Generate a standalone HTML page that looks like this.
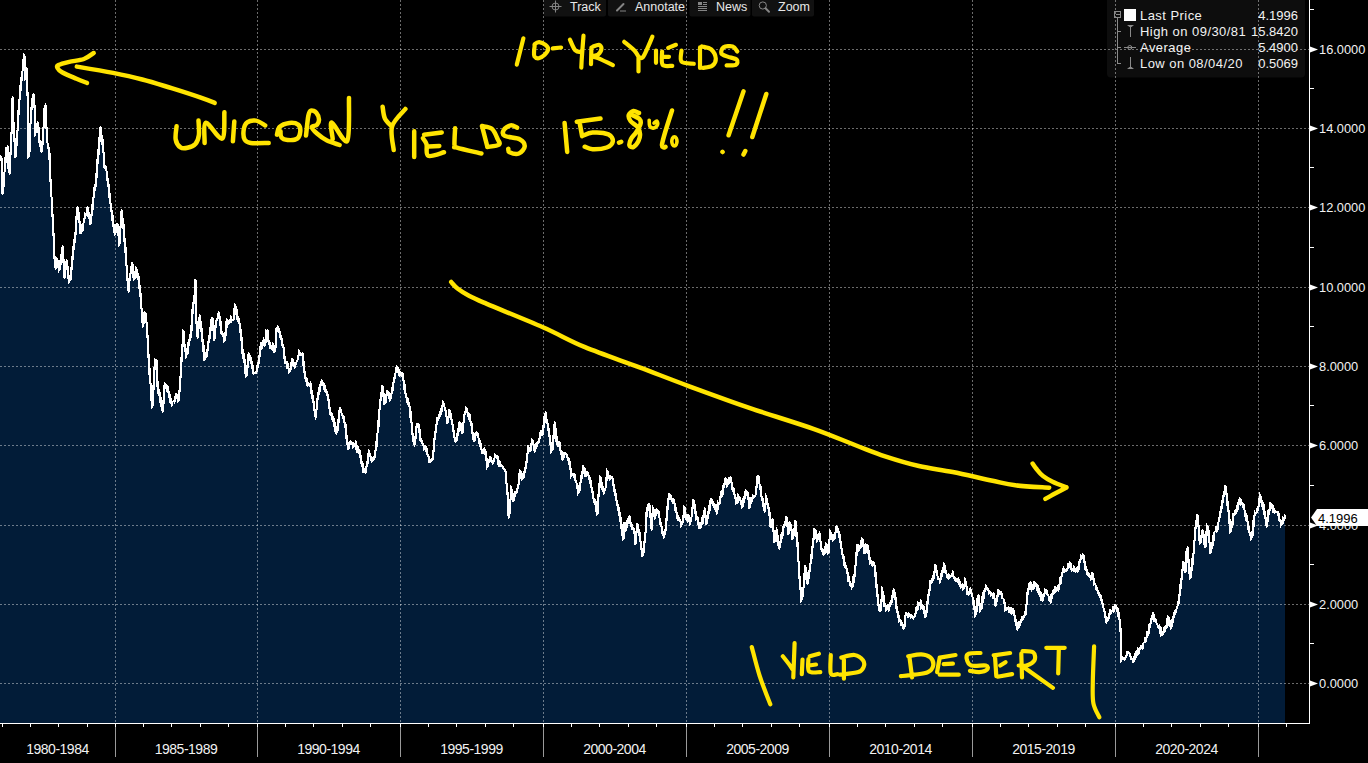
<!DOCTYPE html>
<html><head><meta charset="utf-8">
<style>
html,body{margin:0;padding:0;background:#000;width:1368px;height:763px;overflow:hidden;position:relative;font-family:"Liberation Sans",sans-serif;}
svg{position:absolute;left:0;top:0}
.yl{position:absolute;left:1319px;height:16px;line-height:16px;font-size:13.5px;color:#f2f2f2;white-space:nowrap;transform:scaleX(0.95);transform-origin:0 0}
.yl.tag{color:#000;left:1318px;height:17px;line-height:17px;transform:none;font-size:13px}
.xl{position:absolute;top:740px;width:100px;text-align:center;font-size:14px;line-height:18px;color:#f2f2f2;letter-spacing:-0.5px;white-space:nowrap}
.tb{position:absolute;top:-1px;height:16px;line-height:16px;font-size:12.5px;color:#e8e8e8;white-space:nowrap}
.lg{position:absolute;left:1140px;font-size:13px;letter-spacing:0.45px;line-height:16px;color:#f2f2f2;white-space:nowrap}
.lv{position:absolute;right:70px;font-size:13px;line-height:16px;color:#f2f2f2;text-align:right;white-space:nowrap}
</style></head><body>
<svg width="1368" height="763" viewBox="0 0 1368 763">
<rect x="1107" y="-4" width="198" height="81.5" rx="4" fill="#0d0d0d"/>
<rect x="543.5" y="-4" width="62.5" height="20.5" rx="2" fill="#111111"/>
<rect x="608" y="-4" width="79" height="20.5" rx="2" fill="#111111"/>
<rect x="689.5" y="-4" width="61.0" height="20.5" rx="2" fill="#111111"/>
<rect x="752" y="-4" width="62" height="20.5" rx="2" fill="#111111"/>
<polygon fill="#021c38" shape-rendering="crispEdges" points="0,723 0,159 1.5,191.1 2.5,186.4 3.5,173 4.5,160.4 5.5,151.3 6.5,147.3 7.5,168.4 8.5,171.2 9.5,153.6 10.5,133.5 11.5,99.9 12.5,122.1 13.5,140.5 14.5,156.8 15.5,146.6 16.5,130.2 17.5,113.9 18.5,99.8 19.5,88.3 20.5,80.7 21.5,71.6 22.5,62.7 23.5,55.2 24.5,78 25.5,70.7 26.5,92 27.5,155.2 28.5,148.9 29.5,123.8 30.5,110.7 31.5,99.3 32.5,94.6 33.5,105.8 34.5,133.3 35.5,129.7 36.5,124.3 37.5,129.5 38.5,140.4 39.5,146.1 40.5,149 41.5,142.5 42.5,128.2 43.5,108.1 44.5,107.3 45.5,127.8 46.5,142.2 47.5,147.5 48.5,155.9 49.5,178.9 50.5,196.1 51.5,212.9 52.5,233.3 53.5,255.9 54.5,265.8 55.5,264.9 56.5,260.4 57.5,262.4 58.5,268.7 59.5,263.9 60.5,255.8 61.5,247.9 62.5,261.3 63.5,275.7 64.5,268 65.5,261.6 66.5,267.5 67.5,274.7 68.5,281.5 69.5,276.9 70.5,268.4 71.5,257.3 72.5,249.5 73.5,242.7 74.5,232.4 75.5,220.2 76.5,207.9 77.5,213 78.5,221 79.5,230.2 80.5,233 81.5,228.3 82.5,223.8 83.5,218.7 84.5,216 85.5,213.5 86.5,209.9 87.5,213 88.5,218.4 89.5,223.3 90.5,215.5 91.5,207 92.5,198.3 93.5,190.5 94.5,184.7 95.5,175.6 96.5,163 97.5,152.5 98.5,140.2 99.5,129.8 100.5,135.5 101.5,141.7 102.5,151.3 103.5,166.4 104.5,168.7 105.5,170.7 106.5,177.3 107.5,186.6 108.5,195.3 109.5,202.5 110.5,210.4 111.5,217.6 112.5,224.5 113.5,231.5 114.5,232 115.5,227.7 116.5,225.5 117.5,235.7 118.5,243.3 119.5,228 120.5,213.1 121.5,217.4 122.5,226.9 123.5,237.7 124.5,249.9 125.5,265 126.5,280 127.5,290 128.5,280.3 129.5,273.3 130.5,268 131.5,263.4 132.5,275.1 133.5,279.1 134.5,275.3 135.5,269.2 136.5,272.5 137.5,275.9 138.5,285.3 139.5,295.8 140.5,308.6 141.5,320.4 142.5,323.9 143.5,315.9 144.5,313 145.5,322.5 146.5,335.7 147.5,357.1 148.5,371.1 149.5,383.6 150.5,397.1 151.5,407.1 152.5,387.7 153.5,369.5 154.5,361.4 155.5,362.4 156.5,382.6 157.5,390.4 158.5,394.3 159.5,398.6 160.5,403.2 161.5,409.3 162.5,403.1 163.5,388.7 164.5,383.2 165.5,385 166.5,387.7 167.5,392.1 168.5,396.6 169.5,400.6 170.5,403.6 171.5,402.2 172.5,401.2 173.5,401.5 174.5,398.2 175.5,396.4 176.5,398 177.5,399.8 178.5,390.9 179.5,377.3 180.5,360.5 181.5,345.6 182.5,331.4 183.5,344.2 184.5,351.1 185.5,355.2 186.5,351.5 187.5,345.7 188.5,340.6 189.5,337.6 190.5,328.1 191.5,313 192.5,304.1 193.5,295.5 194.5,280.7 195.5,323 196.5,334.9 197.5,326 198.5,317.5 199.5,322.5 200.5,329.5 201.5,339.2 202.5,348.1 203.5,356.8 204.5,358.8 205.5,354.9 206.5,349.4 207.5,343.2 208.5,335.8 209.5,329.8 210.5,322.9 211.5,320.7 212.5,329.8 213.5,336.7 214.5,328.1 215.5,321.9 216.5,318.6 217.5,314.7 218.5,315.3 219.5,323.1 220.5,331.2 221.5,334.3 222.5,335.8 223.5,340.3 224.5,335.5 225.5,325.1 226.5,321.6 227.5,323.7 228.5,321.7 229.5,319.6 230.5,318.7 231.5,319.1 232.5,319.2 233.5,310.5 234.5,306.8 235.5,310.9 236.5,315.9 237.5,319 238.5,322.9 239.5,329.7 240.5,339.2 241.5,351 242.5,355.8 243.5,361.6 244.5,369.6 245.5,373.9 246.5,367.5 247.5,358.3 248.5,355 249.5,356.5 250.5,360.4 251.5,367.6 252.5,372.6 253.5,373.6 254.5,372 255.5,372.5 256.5,367.5 257.5,362.8 258.5,356.2 259.5,349.7 260.5,346.1 261.5,343.6 262.5,340.5 263.5,342.3 264.5,343.2 265.5,331.6 266.5,331.2 267.5,339.6 268.5,344.4 269.5,347.6 270.5,346.7 271.5,345.5 272.5,347.3 273.5,351.8 274.5,346.7 275.5,331.7 276.5,330 277.5,328.4 278.5,331 279.5,334.7 280.5,338.7 281.5,343.5 282.5,347 283.5,355.4 284.5,362.7 285.5,363.2 286.5,364.6 287.5,368.2 288.5,372.2 289.5,370.7 290.5,363.2 291.5,360.6 292.5,364.6 293.5,366.3 294.5,364.4 295.5,362.6 296.5,360.1 297.5,355.7 298.5,352.7 299.5,353.6 300.5,354.7 301.5,355.8 302.5,362.5 303.5,370.7 304.5,376.2 305.5,380.7 306.5,383.8 307.5,384.3 308.5,383.4 309.5,384 310.5,389.9 311.5,394.8 312.5,401.7 313.5,408.9 314.5,415.7 315.5,409.5 316.5,399.8 317.5,394 318.5,390.1 319.5,384.9 320.5,382 321.5,385.2 322.5,385.5 323.5,386.5 324.5,388.7 325.5,390.9 326.5,393.9 327.5,399.9 328.5,407.7 329.5,413.4 330.5,415.5 331.5,417.6 332.5,419.3 333.5,424.5 334.5,427.9 335.5,432.9 336.5,428.2 337.5,420.1 338.5,412.5 339.5,409.4 340.5,412.2 341.5,414.2 342.5,416.4 343.5,422 344.5,427.1 345.5,435.1 346.5,441.5 347.5,446.9 348.5,444.2 349.5,441.4 350.5,442.3 351.5,444.4 352.5,447.4 353.5,444.1 354.5,444 355.5,446.3 356.5,449.1 357.5,451.6 358.5,452.9 359.5,454.3 360.5,459.9 361.5,465.9 362.5,469.3 363.5,472.6 364.5,472.7 365.5,467.1 366.5,461.7 367.5,455.7 368.5,452.5 369.5,455.6 370.5,458.3 371.5,459.1 372.5,460.2 373.5,458.3 374.5,450.9 375.5,443.8 376.5,433.8 377.5,423.9 378.5,409.8 379.5,400.2 380.5,393.3 381.5,387.7 382.5,395.2 383.5,403.7 384.5,401.3 385.5,395.3 386.5,391.1 387.5,392.8 388.5,396.3 389.5,398.2 390.5,393.2 391.5,388.2 392.5,382.5 393.5,378.9 394.5,373.5 395.5,367.5 396.5,366.2 397.5,369.5 398.5,373 399.5,374.3 400.5,375.5 401.5,376 402.5,380.2 403.5,386.6 404.5,393.3 405.5,397.3 406.5,399.5 407.5,402.4 408.5,406.4 409.5,414.1 410.5,420.9 411.5,433.4 412.5,439.3 413.5,442.8 414.5,437 415.5,427 416.5,424.3 417.5,424.1 418.5,431.6 419.5,438.5 420.5,440.9 421.5,442.8 422.5,445 423.5,447.1 424.5,448.8 425.5,450.8 426.5,454 427.5,455.5 428.5,459.6 429.5,462 430.5,461.7 431.5,460 432.5,452.1 433.5,440.4 434.5,431.8 435.5,425.4 436.5,421.2 437.5,418.3 438.5,414.5 439.5,412.7 440.5,410.8 441.5,406.2 442.5,403.9 443.5,406.6 444.5,409.8 445.5,415.7 446.5,422 447.5,417.7 448.5,409.9 449.5,414.3 450.5,419.2 451.5,423.7 452.5,430.4 453.5,436 454.5,441 455.5,440.8 456.5,433.3 457.5,430 458.5,425.4 459.5,422.9 460.5,427 461.5,432.2 462.5,423 463.5,415.2 464.5,411.9 465.5,408.4 466.5,412.1 467.5,414.2 468.5,416.5 469.5,420.4 470.5,423.8 471.5,431.1 472.5,437.3 473.5,440.1 474.5,436.1 475.5,433.4 476.5,432.6 477.5,437.1 478.5,442 479.5,445.7 480.5,449.1 481.5,452.4 482.5,452.5 483.5,451.1 484.5,451.2 485.5,459.9 486.5,466.4 487.5,463.3 488.5,459.4 489.5,458.4 490.5,460.6 491.5,461.8 492.5,462.1 493.5,458.7 494.5,456.4 495.5,456.4 496.5,458.3 497.5,461.6 498.5,464 499.5,466 500.5,466.4 501.5,466.4 502.5,468.7 503.5,469.8 504.5,470.9 505.5,482.5 506.5,494.7 507.5,515.3 508.5,511 509.5,500.2 510.5,488.4 511.5,493 512.5,498.3 513.5,497.2 514.5,493.7 515.5,491.4 516.5,488.8 517.5,485.4 518.5,476.6 519.5,471.1 520.5,475.2 521.5,477.6 522.5,478.1 523.5,473.3 524.5,468.8 525.5,461.9 526.5,453.9 527.5,446 528.5,450.3 529.5,451.3 530.5,445.7 531.5,439 532.5,443.7 533.5,449.5 534.5,447.7 535.5,444.6 536.5,443.8 537.5,441.9 538.5,439.2 539.5,436.2 540.5,433.9 541.5,431.9 542.5,427.3 543.5,420.1 544.5,413.7 545.5,418.9 546.5,423.4 547.5,429 548.5,435.9 549.5,442.8 550.5,449.9 551.5,447.5 552.5,436.4 553.5,424.2 554.5,430.3 555.5,438.9 556.5,444 557.5,443.9 558.5,445.1 559.5,450 560.5,453.2 561.5,458 562.5,455.4 563.5,454.1 564.5,452.8 565.5,453.8 566.5,456.8 567.5,457.1 568.5,461.1 569.5,467.9 570.5,476.2 571.5,475.4 572.5,474.8 573.5,475.5 574.5,479 575.5,482.7 576.5,487.9 577.5,493 578.5,490.1 579.5,482.7 580.5,476.7 581.5,472.9 582.5,466.4 583.5,469.4 584.5,475.3 585.5,475.9 586.5,472.5 587.5,474.8 588.5,477.8 589.5,483 590.5,486.9 591.5,491.9 592.5,497.3 593.5,499.1 594.5,502.2 595.5,510.5 596.5,513.5 597.5,496 598.5,485.2 599.5,479 600.5,483.4 601.5,486.4 602.5,489.3 603.5,491.2 604.5,488.4 605.5,479.7 606.5,470.6 607.5,474.4 608.5,476.9 609.5,475.8 610.5,477.3 611.5,477.4 612.5,483.9 613.5,489.7 614.5,494.5 615.5,499.5 616.5,504.2 617.5,509.5 618.5,514.9 619.5,519.9 620.5,524.6 621.5,535 622.5,538 623.5,522.9 624.5,523.7 625.5,528.3 626.5,521 627.5,518.3 628.5,518.7 629.5,521.8 630.5,526 631.5,528.5 632.5,528.3 633.5,532.3 634.5,543.3 635.5,532.6 636.5,524.5 637.5,528.3 638.5,534.3 639.5,541 640.5,548.1 641.5,555.4 642.5,551.6 643.5,543.2 644.5,532.9 645.5,515.6 646.5,508.5 647.5,504.2 648.5,506.6 649.5,515.7 650.5,527.1 651.5,515.3 652.5,509.2 653.5,513 654.5,516.4 655.5,513 656.5,510.9 657.5,512.3 658.5,517.3 659.5,521.9 660.5,525.9 661.5,530.3 662.5,534.2 663.5,535.2 664.5,530.4 665.5,519.8 666.5,508 667.5,499.5 668.5,494 669.5,495.8 670.5,497.8 671.5,500 672.5,501.9 673.5,503.3 674.5,507.7 675.5,511.9 676.5,516.6 677.5,519.2 678.5,519.2 679.5,521.3 680.5,524 681.5,523.3 682.5,515.9 683.5,509.3 684.5,513.9 685.5,517.7 686.5,518.8 687.5,518.1 688.5,518.8 689.5,522.3 690.5,517.6 691.5,508.3 692.5,499.7 693.5,506.4 694.5,513.5 695.5,517.1 696.5,518.4 697.5,521 698.5,524.8 699.5,526.3 700.5,523.3 701.5,520.9 702.5,515.5 703.5,510.8 704.5,516.3 705.5,524 706.5,519.1 707.5,512.9 708.5,508.8 709.5,503.8 710.5,500 711.5,502.6 712.5,504.8 713.5,507.1 714.5,508.2 715.5,510.8 716.5,507.4 717.5,504.2 718.5,502.4 719.5,497.6 720.5,494.5 721.5,491.8 722.5,489 723.5,483.8 724.5,479.7 725.5,481 726.5,484.3 727.5,482.3 728.5,477.9 729.5,478.1 730.5,481.7 731.5,486.4 732.5,490.1 733.5,493.7 734.5,497 735.5,501.4 736.5,501.6 737.5,495.8 738.5,497 739.5,500.2 740.5,503.9 741.5,504.9 742.5,500.6 743.5,497.3 744.5,493.4 745.5,490.8 746.5,495 747.5,499.6 748.5,504.8 749.5,504.4 750.5,500.4 751.5,497.9 752.5,498.4 753.5,497.5 754.5,495.6 755.5,487.5 756.5,476.9 757.5,478.9 758.5,483.3 759.5,489 760.5,495.1 761.5,500.1 762.5,503.2 763.5,509.2 764.5,505.4 765.5,497.3 766.5,502.3 767.5,506.2 768.5,512.6 769.5,524.2 770.5,526.5 771.5,519.1 772.5,530.1 773.5,541.3 774.5,540.3 775.5,531.3 776.5,538 777.5,545 778.5,548.6 779.5,543.3 780.5,538.1 781.5,533 782.5,528 783.5,525.4 784.5,522.2 785.5,517.7 786.5,524.7 787.5,533.8 788.5,528.2 789.5,524.4 790.5,529.6 791.5,536.5 792.5,535.8 793.5,529.8 794.5,523.8 795.5,533.4 796.5,543.5 797.5,560.7 798.5,575.3 799.5,588.1 800.5,598.8 801.5,593.9 802.5,588 803.5,577.1 804.5,567.5 805.5,574.9 806.5,581 807.5,578.9 808.5,572.2 809.5,564.1 810.5,556.9 811.5,548.3 812.5,538.8 813.5,528.9 814.5,532.6 815.5,537.8 816.5,539.9 817.5,535.6 818.5,533.1 819.5,540.7 820.5,548.2 821.5,550.3 822.5,553 823.5,553.6 824.5,546.8 825.5,546.2 826.5,550.8 827.5,549.8 828.5,540.4 829.5,531.2 830.5,534.2 831.5,536.9 832.5,539.9 833.5,536.2 834.5,533.2 835.5,530.3 836.5,527.5 837.5,531.2 838.5,535.2 839.5,540.8 840.5,548.4 841.5,554.3 842.5,558.7 843.5,562.1 844.5,564.2 845.5,568.3 846.5,572.6 847.5,577.8 848.5,580.6 849.5,584.3 850.5,586 851.5,586.5 852.5,580.2 853.5,575.4 854.5,566.5 855.5,554.8 856.5,545.8 857.5,545.7 858.5,547.7 859.5,547.9 860.5,542.5 861.5,538.6 862.5,543.2 863.5,552.3 864.5,550.9 865.5,545.2 866.5,546 867.5,551.9 868.5,558.7 869.5,560.8 870.5,562.8 871.5,563.9 872.5,562.3 873.5,565.7 874.5,572.7 875.5,583.9 876.5,595.7 877.5,603.3 878.5,609.4 879.5,610.9 880.5,599.5 881.5,590 882.5,596.7 883.5,604 884.5,606.8 885.5,608.3 886.5,608.7 887.5,608.3 888.5,605.7 889.5,604.2 890.5,600.6 891.5,596.1 892.5,591.4 893.5,593.2 894.5,599.2 895.5,605.4 896.5,610.1 897.5,615.3 898.5,620.5 899.5,621.8 900.5,621 901.5,624.8 902.5,627.9 903.5,625.9 904.5,616.2 905.5,613.3 906.5,614.2 907.5,616 908.5,615.8 909.5,616 910.5,616.7 911.5,616.5 912.5,617.3 913.5,617.8 914.5,614.3 915.5,608.5 916.5,607.1 917.5,605.2 918.5,604.4 919.5,603 920.5,606.5 921.5,605.6 922.5,608.8 923.5,612.6 924.5,617.1 925.5,610.5 926.5,602.5 927.5,595.8 928.5,589.7 929.5,584.2 930.5,581.7 931.5,580.1 932.5,577.7 933.5,571.2 934.5,565.8 935.5,571.9 936.5,575.6 937.5,576.9 938.5,579.1 939.5,580.5 940.5,576.1 941.5,572.6 942.5,568.9 943.5,565 944.5,569.3 945.5,573.2 946.5,577.6 947.5,576.6 948.5,577.4 949.5,575.7 950.5,575.2 951.5,573.9 952.5,576.2 953.5,578.4 954.5,579 955.5,578.8 956.5,578.6 957.5,578.9 958.5,581.7 959.5,583.8 960.5,585.8 961.5,586.4 962.5,589.2 963.5,585 964.5,580.9 965.5,585.9 966.5,592.5 967.5,594.2 968.5,591.3 969.5,589.5 970.5,592.9 971.5,596.6 972.5,602.8 973.5,609 974.5,615.5 975.5,609.9 976.5,601.1 977.5,597.4 978.5,602.9 979.5,608.8 980.5,606 981.5,600.2 982.5,596 983.5,592.2 984.5,589.7 985.5,586.9 986.5,587.5 987.5,589.5 988.5,593.5 989.5,593 990.5,595.9 991.5,594.8 992.5,593.8 993.5,598.4 994.5,603 995.5,602.2 996.5,596.6 997.5,592.1 998.5,592 999.5,592.4 1000.5,594.1 1001.5,597 1002.5,598.7 1003.5,602.4 1004.5,607.9 1005.5,610.2 1006.5,607.8 1007.5,607.6 1008.5,609.5 1009.5,611.8 1010.5,610.7 1011.5,609.4 1012.5,610.6 1013.5,614.7 1014.5,619.8 1015.5,624.1 1016.5,627.4 1017.5,625.5 1018.5,623.1 1019.5,622.6 1020.5,620.4 1021.5,619.7 1022.5,618.2 1023.5,615.9 1024.5,612.2 1025.5,604.8 1026.5,595.5 1027.5,588.8 1028.5,583.1 1029.5,584.6 1030.5,588.4 1031.5,588.3 1032.5,586.7 1033.5,584.8 1034.5,582.8 1035.5,583.4 1036.5,587.5 1037.5,591 1038.5,591.8 1039.5,594.8 1040.5,596.9 1041.5,599.1 1042.5,597 1043.5,594 1044.5,589.9 1045.5,590.8 1046.5,593.9 1047.5,595.2 1048.5,598.7 1049.5,600.1 1050.5,598 1051.5,594 1052.5,591.4 1053.5,590.3 1054.5,588.8 1055.5,587.5 1056.5,588.9 1057.5,589.3 1058.5,584.9 1059.5,581.2 1060.5,576.7 1061.5,573.4 1062.5,569 1063.5,571.2 1064.5,571.8 1065.5,570.1 1066.5,568.5 1067.5,565 1068.5,564.3 1069.5,562.2 1070.5,567 1071.5,570.1 1072.5,570.4 1073.5,569.2 1074.5,569.7 1075.5,569.2 1076.5,570.5 1077.5,567.9 1078.5,563.9 1079.5,559.4 1080.5,558.1 1081.5,555.9 1082.5,557.6 1083.5,560 1084.5,565.6 1085.5,570 1086.5,573.9 1087.5,574.6 1088.5,576.5 1089.5,577.2 1090.5,575.7 1091.5,576 1092.5,579.2 1093.5,582.2 1094.5,584.4 1095.5,586.3 1096.5,589.6 1097.5,591.9 1098.5,594.9 1099.5,596.6 1100.5,599.3 1101.5,602.8 1102.5,607.2 1103.5,610.6 1104.5,616.5 1105.5,622.3 1106.5,621.7 1107.5,617.5 1108.5,613.6 1109.5,612.6 1110.5,611.6 1111.5,611.2 1112.5,609.4 1113.5,609.5 1114.5,607.8 1115.5,607.9 1116.5,610.6 1117.5,614.2 1118.5,618.7 1119.5,631 1120.5,661 1121.5,659 1122.5,657.5 1123.5,659 1124.5,658.1 1125.5,656.2 1126.5,652.9 1127.5,651.5 1128.5,653.6 1129.5,656.5 1130.5,658.6 1131.5,659.5 1132.5,661.6 1133.5,658.6 1134.5,657.1 1135.5,653.8 1136.5,652.1 1137.5,650.8 1138.5,649.6 1139.5,647.4 1140.5,645.9 1141.5,646.5 1142.5,643.7 1143.5,642.3 1144.5,640.4 1145.5,637.3 1146.5,635.2 1147.5,631.4 1148.5,627.6 1149.5,623.5 1150.5,618.3 1151.5,616.5 1152.5,616.3 1153.5,618.3 1154.5,619.6 1155.5,621.8 1156.5,624.2 1157.5,625.7 1158.5,627.6 1159.5,630.1 1160.5,633.1 1161.5,634.5 1162.5,632.3 1163.5,628.9 1164.5,627 1165.5,625.4 1166.5,622.3 1167.5,618.9 1168.5,622.3 1169.5,626.1 1170.5,626.3 1171.5,622.9 1172.5,618.6 1173.5,614.3 1174.5,613.1 1175.5,609.4 1176.5,606.5 1177.5,602.2 1178.5,594.9 1179.5,587.8 1180.5,580.3 1181.5,570.9 1182.5,563.7 1183.5,566.7 1184.5,569 1185.5,554.6 1186.5,550.1 1187.5,561.3 1188.5,572.3 1189.5,577.8 1190.5,571.2 1191.5,562.2 1192.5,554.2 1193.5,541.1 1194.5,528 1195.5,521.1 1196.5,515 1197.5,524.9 1198.5,536.9 1199.5,543.6 1200.5,537 1201.5,531.2 1202.5,536.3 1203.5,541.9 1204.5,544.7 1205.5,534.9 1206.5,525.5 1207.5,532.3 1208.5,541.4 1209.5,551.7 1210.5,548 1211.5,543.4 1212.5,539.1 1213.5,532.5 1214.5,531.4 1215.5,529.6 1216.5,526.9 1217.5,522.7 1218.5,518.8 1219.5,513.3 1220.5,507.9 1221.5,502.5 1222.5,496.6 1223.5,492.6 1224.5,486.1 1225.5,494.3 1226.5,502.2 1227.5,511.3 1228.5,521.7 1229.5,532.4 1230.5,527.8 1231.5,522.2 1232.5,514.4 1233.5,514.9 1234.5,513.9 1235.5,511.9 1236.5,507.7 1237.5,502.4 1238.5,500.8 1239.5,498.6 1240.5,501.6 1241.5,503.8 1242.5,505.4 1243.5,509.7 1244.5,513.2 1245.5,517 1246.5,521.9 1247.5,527.7 1248.5,531.6 1249.5,534 1250.5,538.4 1251.5,532.8 1252.5,523.9 1253.5,516.3 1254.5,514.3 1255.5,512.3 1256.5,510.3 1257.5,506.2 1258.5,500.4 1259.5,495.6 1260.5,499 1261.5,502.6 1262.5,506.5 1263.5,511.3 1264.5,518.2 1265.5,524 1266.5,520.4 1267.5,514.3 1268.5,509.7 1269.5,502.7 1270.5,505.9 1271.5,507.3 1272.5,510 1273.5,511.5 1274.5,511.5 1275.5,512.2 1276.5,512.5 1277.5,515.2 1278.5,519 1279.5,521.1 1280.5,525.3 1281.5,522.7 1282.5,519.9 1283.5,519.6 1285,518 1285,723"/>
<g stroke="rgba(255,255,255,0.42)" stroke-width="1" stroke-dasharray="2 2" shape-rendering="crispEdges"><line x1="0" y1="49.5" x2="1309" y2="49.5"/><line x1="0" y1="128.5" x2="1309" y2="128.5"/><line x1="0" y1="207.5" x2="1309" y2="207.5"/><line x1="0" y1="287.5" x2="1309" y2="287.5"/><line x1="0" y1="366.5" x2="1309" y2="366.5"/><line x1="0" y1="445.5" x2="1309" y2="445.5"/><line x1="0" y1="525.5" x2="1309" y2="525.5"/><line x1="0" y1="604.5" x2="1309" y2="604.5"/><line x1="0" y1="683.5" x2="1309" y2="683.5"/><line x1="115.5" y1="0" x2="115.5" y2="723"/><line x1="257.5" y1="0" x2="257.5" y2="723"/><line x1="400.5" y1="0" x2="400.5" y2="723"/><line x1="543.5" y1="0" x2="543.5" y2="723"/><line x1="686.5" y1="0" x2="686.5" y2="723"/><line x1="829.5" y1="0" x2="829.5" y2="723"/><line x1="972.5" y1="0" x2="972.5" y2="723"/><line x1="1115.5" y1="0" x2="1115.5" y2="723"/><line x1="1258.5" y1="0" x2="1258.5" y2="723"/></g>
<path fill="none" stroke="#ffffff" stroke-width="1" shape-rendering="crispEdges" d="M0.5 155.1V160.8M1.5 157.0V193.5M2.5 183.9V194.9M3.5 172.3V187.7M4.5 157.4V173.5M5.5 147.4V164.3M6.5 146.5V151.9M7.5 145.2V169.0M8.5 167.8V173.0M9.5 151.9V175.1M10.5 131.5V156.4M11.5 98.1V134.7M12.5 96.0V125.2M13.5 120.8V141.6M14.5 137.0V158.4M15.5 142.7V158.3M16.5 129.7V147.6M17.5 110.0V132.1M18.5 99.1V116.5M19.5 84.6V101.0M20.5 76.8V91.7M21.5 70.8V81.8M22.5 58.9V72.5M23.5 53.0V64.5M24.5 54.4V80.7M25.5 69.9V79.6M26.5 66.8V95.9M27.5 90.7V159.1M28.5 145.0V157.8M29.5 123.1V152.8M30.5 107.1V125.1M31.5 98.1V111.4M32.5 93.5V101.7M33.5 93.1V107.6M34.5 103.6V137.2M35.5 128.8V134.2M36.5 123.2V130.6M37.5 121.0V133.4M38.5 125.6V142.8M39.5 138.7V146.8M40.5 145.0V152.0M41.5 141.4V152.9M42.5 127.3V145.7M43.5 107.5V129.3M44.5 104.8V109.3M45.5 103.4V128.8M46.5 126.1V142.8M47.5 141.3V149.0M48.5 146.0V159.8M49.5 152.0V181.6M50.5 178.1V196.7M51.5 195.6V216.8M52.5 212.3V235.9M53.5 231.4V259.2M54.5 255.2V267.9M55.5 261.6V269.7M56.5 256.6V268.8M57.5 259.0V265.4M58.5 260.8V272.5M59.5 260.0V271.0M60.5 253.5V266.4M61.5 247.3V258.5M62.5 244.7V262.8M63.5 258.0V278.0M64.5 267.4V279.1M65.5 261.0V270.5M66.5 258.6V269.5M67.5 265.0V278.6M68.5 273.4V284.3M69.5 275.9V282.3M70.5 266.7V280.8M71.5 256.0V271.2M72.5 245.6V261.2M73.5 238.8V251.0M74.5 231.6V244.6M75.5 216.3V236.3M76.5 206.8V221.1M77.5 206.2V214.2M78.5 210.4V222.9M79.5 219.7V234.1M80.5 229.5V233.5M81.5 224.4V233.5M82.5 222.5V232.1M83.5 218.2V224.6M84.5 212.1V219.8M85.5 212.7V216.6M86.5 207.3V216.2M87.5 206.0V216.9M88.5 211.1V219.3M89.5 217.9V225.2M90.5 214.4V224.7M91.5 204.0V217.6M92.5 196.8V210.8M93.5 186.6V199.0M94.5 183.9V192.3M95.5 173.0V188.6M96.5 159.1V179.4M97.5 148.6V164.8M98.5 137.0V156.4M99.5 127.2V143.4M100.5 125.9V139.4M101.5 133.4V145.4M102.5 137.8V152.7M103.5 150.6V168.1M104.5 164.5V169.3M105.5 164.8V171.3M106.5 169.3V181.0M107.5 176.5V187.4M108.5 182.7V198.2M109.5 191.4V204.4M110.5 201.5V212.4M111.5 209.2V220.9M112.5 213.7V226.7M113.5 223.2V233.0M114.5 230.5V235.9M115.5 223.8V234.1M116.5 223.4V229.6M117.5 223.0V236.2M118.5 234.1V247.2M119.5 225.8V245.3M120.5 210.9V229.6M121.5 209.2V221.3M122.5 216.6V228.6M123.5 223.0V241.6M124.5 236.7V252.5M125.5 246.0V265.8M126.5 264.1V281.1M127.5 277.1V291.3M128.5 279.6V293.3M129.5 272.5V282.3M130.5 265.9V275.0M131.5 261.9V269.6M132.5 262.4V277.7M133.5 272.5V281.2M134.5 271.4V280.1M135.5 265.9V279.2M136.5 267.9V276.4M137.5 271.5V279.8M138.5 274.8V288.5M139.5 284.2V296.5M140.5 292.0V309.4M141.5 307.0V323.3M142.5 317.5V327.8M143.5 312.0V324.7M144.5 311.0V318.8M145.5 312.0V323.2M146.5 320.3V337.7M147.5 333.4V357.9M148.5 353.2V375.0M149.5 367.2V384.3M150.5 381.8V400.6M151.5 395.8V408.9M152.5 385.2V407.6M153.5 366.5V391.6M154.5 358.1V371.1M155.5 360.4V363.3M156.5 358.5V386.5M157.5 379.6V394.3M158.5 388.0V396.3M159.5 390.4V402.5M160.5 395.3V406.9M161.5 399.3V410.9M162.5 400.1V412.9M163.5 385.2V404.7M164.5 381.8V390.5M165.5 382.7V386.4M166.5 383.9V391.6M167.5 384.9V393.4M168.5 390.0V398.1M169.5 392.7V403.3M170.5 396.7V404.2M171.5 399.7V406.9M172.5 400.6V403.2M173.5 399.7V402.2M174.5 396.0V403.5M175.5 392.5V400.5M176.5 392.5V398.7M177.5 395.6V403.3M178.5 390.0V401.7M179.5 376.4V392.8M180.5 356.6V378.9M181.5 343.5V362.9M182.5 328.7V347.8M183.5 330.2V347.4M184.5 343.1V351.7M185.5 350.3V358.7M186.5 348.1V355.8M187.5 341.8V355.4M188.5 338.9V347.5M189.5 333.7V341.7M190.5 324.9V339.4M191.5 309.1V332.0M192.5 301.5V314.8M193.5 294.5V304.7M194.5 279.0V298.3M195.5 278.9V324.1M196.5 319.3V337.0M197.5 322.1V338.8M198.5 316.7V329.9M199.5 313.8V325.0M200.5 319.5V331.7M201.5 327.1V341.8M202.5 338.1V352.0M203.5 344.2V360.7M204.5 355.6V360.5M205.5 352.4V359.6M206.5 348.7V357.8M207.5 341.0V351.9M208.5 334.8V344.5M209.5 326.5V339.7M210.5 319.0V332.4M211.5 317.2V323.9M212.5 316.8V331.3M213.5 327.1V340.6M214.5 324.7V340.6M215.5 320.2V329.6M216.5 318.0V322.6M217.5 312.5V320.5M218.5 311.1V315.9M219.5 314.3V325.9M220.5 319.9V334.2M221.5 330.0V335.1M222.5 332.8V336.6M223.5 332.8V342.6M224.5 331.6V342.1M225.5 321.2V336.8M226.5 317.7V329.0M227.5 320.5V325.2M228.5 320.2V325.3M229.5 318.6V324.0M230.5 314.8V321.8M231.5 317.7V322.6M232.5 318.6V321.2M233.5 308.4V321.4M234.5 302.9V311.2M235.5 304.6V314.6M236.5 307.6V319.8M237.5 315.2V321.6M238.5 316.3V324.0M239.5 321.9V333.2M240.5 328.1V340.6M241.5 335.3V353.9M242.5 347.9V358.9M243.5 351.9V363.2M244.5 357.7V373.5M245.5 365.7V377.8M246.5 365.4V377.0M247.5 354.4V369.1M248.5 351.7V362.2M249.5 353.5V357.4M250.5 355.3V364.3M251.5 359.8V368.8M252.5 363.9V373.5M253.5 372.0V375.4M254.5 371.5V374.3M255.5 371.1V373.5M256.5 365.1V373.5M257.5 361.9V368.7M258.5 354.9V365.0M259.5 345.8V358.0M260.5 342.2V350.9M261.5 341.7V350.0M262.5 339.9V347.5M263.5 337.3V343.6M264.5 341.3V347.1M265.5 329.3V344.2M266.5 329.9V334.8M267.5 328.5V341.7M268.5 338.4V345.4M269.5 340.5V349.3M270.5 345.6V349.4M271.5 344.7V349.7M272.5 341.8V350.7M273.5 346.7V352.8M274.5 345.1V353.4M275.5 327.8V348.7M276.5 326.8V333.1M277.5 324.5V330.6M278.5 326.5V332.8M279.5 330.2V338.3M280.5 334.1V339.9M281.5 337.2V346.1M282.5 342.8V348.4M283.5 345.5V359.3M284.5 354.8V364.0M285.5 360.1V364.1M286.5 362.7V368.5M287.5 361.4V369.1M288.5 366.9V374.1M289.5 369.6V373.4M290.5 362.2V371.6M291.5 357.8V364.4M292.5 357.9V365.7M293.5 361.1V366.9M294.5 362.0V368.8M295.5 361.8V365.8M296.5 359.5V363.6M297.5 355.0V360.8M298.5 348.8V357.2M299.5 351.0V355.9M300.5 352.3V355.9M301.5 353.3V356.3M302.5 351.9V365.7M303.5 360.2V372.8M304.5 369.5V378.5M305.5 375.5V382.0M306.5 377.2V385.9M307.5 383.0V387.3M308.5 382.2V386.0M309.5 382.6V386.6M310.5 381.3V393.5M311.5 389.1V398.7M312.5 394.2V402.7M313.5 399.8V411.4M314.5 407.7V417.3M315.5 408.8V419.6M316.5 398.0V411.4M317.5 392.1V400.9M318.5 386.7V396.1M319.5 384.2V393.6M320.5 381.1V386.8M321.5 378.5V386.0M322.5 384.6V386.3M323.5 381.6V390.4M324.5 384.1V391.5M325.5 387.4V392.9M326.5 390.0V395.5M327.5 393.2V401.2M328.5 398.1V408.7M329.5 405.7V414.6M330.5 411.0V416.3M331.5 411.6V419.7M332.5 415.4V421.8M333.5 416.4V427.4M334.5 420.9V431.7M335.5 426.5V434.3M336.5 426.4V434.6M337.5 418.6V432.1M338.5 409.8V424.0M339.5 406.7V414.5M340.5 407.4V412.8M341.5 411.5V415.7M342.5 413.6V418.9M343.5 414.7V423.0M344.5 421.1V427.7M345.5 423.2V439.0M346.5 433.7V444.7M347.5 440.5V449.8M348.5 443.5V450.1M349.5 440.7V446.0M350.5 440.4V443.4M351.5 441.1V445.0M352.5 443.0V448.7M353.5 442.1V448.0M354.5 442.8V445.7M355.5 440.1V450.2M356.5 445.2V453.0M357.5 445.2V452.5M358.5 450.0V453.8M359.5 449.0V458.2M360.5 453.4V463.8M361.5 459.3V466.5M362.5 462.0V473.2M363.5 466.7V473.3M364.5 471.1V473.3M365.5 466.1V473.8M366.5 460.9V468.0M367.5 453.4V464.9M368.5 448.6V457.7M369.5 451.5V456.7M370.5 454.6V460.5M371.5 457.6V463.0M372.5 457.3V460.8M373.5 456.2V461.3M374.5 450.2V459.4M375.5 440.9V451.9M376.5 432.9V447.7M377.5 420.0V434.3M378.5 408.5V427.8M379.5 398.6V410.7M380.5 392.1V402.6M381.5 384.6V395.1M382.5 385.2V396.9M383.5 391.3V404.5M384.5 399.2V404.7M385.5 393.8V404.4M386.5 390.1V396.9M387.5 390.2V394.8M388.5 390.7V399.0M389.5 394.4V402.1M390.5 392.7V399.8M391.5 386.8V394.7M392.5 381.9V392.1M393.5 377.0V384.4M394.5 372.7V380.1M395.5 367.0V374.6M396.5 365.2V369.5M397.5 365.5V372.9M398.5 368.7V375.5M399.5 369.4V377.4M400.5 373.0V376.4M401.5 371.6V376.6M402.5 372.1V380.9M403.5 378.6V389.5M404.5 382.7V394.1M405.5 392.0V398.4M406.5 396.7V403.4M407.5 396.5V405.2M408.5 400.5V407.4M409.5 404.9V418.0M410.5 410.2V423.0M411.5 420.3V434.8M412.5 432.2V441.8M413.5 435.4V444.9M414.5 435.7V446.5M415.5 425.7V440.1M416.5 423.4V428.9M417.5 423.3V425.1M418.5 422.9V433.2M419.5 427.7V440.9M420.5 437.1V441.6M421.5 438.4V444.0M422.5 441.9V446.0M423.5 443.6V451.0M424.5 445.8V449.6M425.5 444.9V452.1M426.5 446.9V454.6M427.5 452.9V456.8M428.5 454.4V462.6M429.5 457.9V462.6M430.5 461.1V462.8M431.5 457.9V462.3M432.5 450.3V460.7M433.5 437.9V453.1M434.5 431.0V441.3M435.5 424.4V434.4M436.5 417.3V426.4M437.5 417.2V422.4M438.5 413.9V420.5M439.5 410.7V417.8M440.5 408.4V416.6M441.5 405.3V413.2M442.5 400.0V407.2M443.5 401.7V407.2M444.5 405.9V411.1M445.5 408.6V417.4M446.5 414.3V423.6M447.5 416.9V424.4M448.5 408.7V419.2M449.5 409.2V416.3M450.5 411.8V419.7M451.5 417.8V424.9M452.5 423.1V432.1M453.5 428.4V437.6M454.5 435.5V442.2M455.5 436.9V442.9M456.5 432.5V442.3M457.5 427.8V437.2M458.5 421.5V433.0M459.5 420.7V427.5M460.5 421.9V430.5M461.5 423.1V433.5M462.5 422.3V433.9M463.5 414.1V424.3M464.5 411.0V416.2M465.5 406.0V412.8M466.5 407.1V413.0M467.5 410.4V416.5M468.5 412.3V420.0M469.5 412.6V421.6M470.5 419.3V426.4M471.5 421.3V433.6M472.5 430.3V439.5M473.5 435.7V442.0M474.5 433.2V441.9M475.5 432.4V437.1M476.5 430.9V434.1M477.5 432.0V437.8M478.5 436.4V443.5M479.5 439.0V447.3M480.5 441.8V449.7M481.5 448.1V454.1M482.5 449.7V453.5M483.5 448.4V453.7M484.5 447.4V454.7M485.5 449.3V461.3M486.5 456.4V469.6M487.5 462.6V467.7M488.5 458.5V463.9M489.5 456.4V463.3M490.5 455.9V462.0M491.5 458.4V463.2M492.5 461.3V464.7M493.5 458.0V462.7M494.5 452.5V459.5M495.5 455.2V457.0M496.5 455.1V459.4M497.5 455.1V465.2M498.5 459.4V467.0M499.5 460.1V467.3M500.5 462.8V467.1M501.5 465.5V467.1M502.5 464.8V469.4M503.5 467.6V470.4M504.5 467.7V471.9M505.5 469.9V484.2M506.5 482.0V495.4M507.5 490.8V516.4M508.5 509.4V519.2M509.5 499.4V514.9M510.5 485.1V501.6M511.5 487.8V494.8M512.5 491.9V502.2M513.5 493.3V502.2M514.5 491.0V498.0M515.5 490.9V494.5M516.5 487.6V494.3M517.5 484.3V490.6M518.5 472.7V485.9M519.5 469.3V479.9M520.5 469.7V478.4M521.5 471.7V480.6M522.5 473.7V479.5M523.5 470.8V479.1M524.5 466.8V474.3M525.5 460.5V470.0M526.5 452.6V464.1M527.5 444.8V454.9M528.5 445.3V451.5M529.5 447.5V452.2M530.5 443.3V452.2M531.5 438.4V446.5M532.5 438.5V445.4M533.5 442.3V450.7M534.5 446.8V453.4M535.5 443.4V450.6M536.5 442.4V448.5M537.5 440.9V445.2M538.5 438.2V444.3M539.5 432.3V440.4M540.5 430.0V437.0M541.5 429.6V435.2M542.5 425.1V435.8M543.5 416.3V429.5M544.5 413.0V423.7M545.5 411.2V420.4M546.5 417.6V424.3M547.5 421.3V430.9M548.5 426.8V437.4M549.5 433.9V444.8M550.5 441.2V453.8M551.5 444.7V451.1M552.5 435.0V451.4M553.5 423.5V440.3M554.5 420.6V432.6M555.5 426.4V442.4M556.5 435.0V444.6M557.5 440.0V446.6M558.5 442.3V446.9M559.5 441.2V450.9M560.5 449.4V455.0M561.5 450.0V459.7M562.5 451.6V461.0M563.5 452.3V459.3M564.5 451.6V454.8M565.5 452.3V455.1M566.5 453.1V457.6M567.5 455.4V460.8M568.5 456.5V465.0M569.5 460.2V470.1M570.5 467.0V478.5M571.5 473.9V476.7M572.5 472.6V476.4M573.5 472.7V478.0M574.5 473.0V480.6M575.5 478.3V483.4M576.5 481.4V488.8M577.5 484.0V495.5M578.5 488.9V494.4M579.5 481.9V492.2M580.5 475.3V484.2M581.5 471.2V480.6M582.5 465.4V474.8M583.5 465.3V473.3M584.5 467.0V476.8M585.5 471.4V477.2M586.5 470.9V476.5M587.5 471.0V475.8M588.5 473.7V480.3M589.5 475.4V484.0M590.5 479.1V487.9M591.5 485.5V493.2M592.5 489.9V499.1M593.5 496.6V503.0M594.5 497.8V504.9M595.5 499.8V511.7M596.5 510.0V515.7M597.5 494.4V514.7M598.5 482.8V498.0M599.5 475.1V489.1M600.5 475.5V485.6M601.5 480.8V490.3M602.5 485.0V491.6M603.5 488.4V495.1M604.5 487.7V492.5M605.5 476.9V489.1M606.5 468.4V482.5M607.5 469.6V477.7M608.5 473.7V478.5M609.5 475.3V480.7M610.5 475.3V478.5M611.5 475.5V479.2M612.5 476.3V485.6M613.5 483.2V491.7M614.5 488.0V495.6M615.5 491.4V500.5M616.5 498.6V505.7M617.5 502.3V511.1M618.5 505.8V515.7M619.5 511.0V521.7M620.5 516.0V528.5M621.5 523.2V535.6M622.5 532.3V540.6M623.5 522.1V539.8M624.5 521.8V527.6M625.5 521.5V532.0M626.5 520.3V529.3M627.5 517.6V524.9M628.5 516.0V522.6M629.5 514.8V523.8M630.5 520.5V527.1M631.5 523.2V529.5M632.5 526.7V529.8M633.5 526.8V533.8M634.5 531.7V545.1M635.5 530.7V544.7M636.5 523.2V533.7M637.5 522.8V529.3M638.5 527.8V535.7M639.5 530.4V541.6M640.5 539.8V550.1M641.5 546.8V556.5M642.5 550.5V557.1M643.5 541.4V554.5M644.5 531.9V544.2M645.5 512.4V534.4M646.5 507.4V518.0M647.5 503.5V512.4M648.5 503.0V510.0M649.5 503.4V518.0M650.5 515.1V529.3M651.5 513.4V531.0M652.5 505.3V518.1M653.5 507.3V513.6M654.5 510.6V520.3M655.5 509.1V517.0M656.5 508.1V514.3M657.5 509.4V513.7M658.5 509.5V518.0M659.5 516.6V525.4M660.5 521.2V526.6M661.5 524.7V534.2M662.5 529.4V535.6M663.5 532.4V538.8M664.5 528.8V535.8M665.5 518.3V531.7M666.5 506.4V522.3M667.5 498.2V511.1M668.5 493.2V501.5M669.5 493.1V497.1M670.5 493.8V499.6M671.5 496.5V502.0M672.5 498.0V503.5M673.5 498.0V504.4M674.5 502.2V510.5M675.5 505.8V512.9M676.5 510.6V519.2M677.5 515.1V521.3M678.5 515.3V520.7M679.5 517.5V522.2M680.5 520.1V527.7M681.5 522.7V526.5M682.5 514.7V524.1M683.5 505.4V518.9M684.5 506.2V514.8M685.5 513.0V519.5M686.5 514.7V520.8M687.5 514.2V522.7M688.5 514.2V521.5M689.5 517.7V526.1M690.5 516.7V522.9M691.5 506.5V518.6M692.5 498.9V510.0M693.5 498.6V507.4M694.5 502.5V514.3M695.5 509.6V520.8M696.5 514.3V520.2M697.5 516.1V524.9M698.5 520.4V528.7M699.5 523.5V529.4M700.5 522.0V529.0M701.5 517.0V525.0M702.5 514.5V524.8M703.5 510.1V519.4M704.5 506.9V517.0M705.5 514.4V524.8M706.5 515.2V524.7M707.5 510.6V519.7M708.5 504.9V515.4M709.5 500.0V511.9M710.5 498.2V504.7M711.5 498.2V503.9M712.5 500.0V506.2M713.5 503.2V507.7M714.5 503.2V510.1M715.5 507.4V511.9M716.5 503.5V514.7M717.5 500.3V511.3M718.5 501.9V505.8M719.5 495.6V504.9M720.5 490.6V498.3M721.5 490.0V498.4M722.5 485.1V495.7M723.5 483.2V489.6M724.5 478.0V485.7M725.5 476.8V484.3M726.5 477.8V488.2M727.5 478.7V485.7M728.5 477.3V485.3M729.5 476.8V480.1M730.5 475.7V483.3M731.5 480.8V490.3M732.5 485.4V491.7M733.5 487.0V494.9M734.5 492.7V498.7M735.5 496.0V505.3M736.5 500.3V502.8M737.5 493.1V504.0M738.5 495.2V500.0M739.5 496.0V501.2M740.5 498.9V505.1M741.5 500.0V508.8M742.5 497.5V508.0M743.5 496.1V503.8M744.5 491.4V500.1M745.5 489.2V496.8M746.5 489.5V495.6M747.5 491.1V500.4M748.5 495.7V508.7M749.5 503.1V508.7M750.5 496.5V505.2M751.5 497.1V502.9M752.5 494.0V499.9M753.5 496.2V499.1M754.5 495.0V498.3M755.5 486.3V496.2M756.5 476.1V489.3M757.5 475.0V480.8M758.5 475.0V483.9M759.5 482.4V489.7M760.5 485.1V496.8M761.5 494.3V501.3M762.5 496.9V507.1M763.5 501.7V511.3M764.5 504.5V513.1M765.5 493.4V505.9M766.5 496.7V503.1M767.5 501.5V509.0M768.5 505.3V515.9M769.5 510.9V526.5M770.5 523.7V527.6M771.5 518.5V527.5M772.5 517.5V532.2M773.5 528.9V542.6M774.5 538.9V543.1M775.5 529.7V541.5M776.5 527.4V541.7M777.5 534.1V545.8M778.5 544.0V549.4M779.5 540.6V549.6M780.5 534.2V544.4M781.5 532.3V540.6M782.5 526.4V536.9M783.5 523.7V529.4M784.5 521.1V527.3M785.5 515.5V523.7M786.5 516.0V527.0M787.5 520.8V534.9M788.5 524.9V534.8M789.5 520.9V531.4M790.5 522.7V531.1M791.5 527.8V540.4M792.5 534.7V540.2M793.5 528.1V537.0M794.5 520.2V533.0M795.5 519.9V537.3M796.5 530.8V546.8M797.5 540.3V561.6M798.5 559.7V579.2M799.5 574.8V589.8M800.5 586.0V602.7M801.5 590.0V601.1M802.5 587.4V597.8M803.5 573.2V589.2M804.5 564.6V581.0M805.5 565.4V575.6M806.5 571.0V584.0M807.5 575.8V584.9M808.5 570.0V580.5M809.5 562.8V573.4M810.5 553.7V565.1M811.5 546.0V559.9M812.5 537.7V549.3M813.5 528.1V541.1M814.5 527.7V536.5M815.5 528.7V538.9M816.5 533.9V542.9M817.5 534.4V540.9M818.5 532.6V539.5M819.5 531.3V542.3M820.5 539.8V550.2M821.5 547.2V551.5M822.5 549.1V554.8M823.5 549.1V555.8M824.5 545.8V555.2M825.5 542.3V547.5M826.5 543.2V552.7M827.5 547.6V554.7M828.5 538.6V553.7M829.5 529.4V541.3M830.5 530.4V536.1M831.5 533.2V539.5M832.5 533.9V542.1M833.5 533.6V541.4M834.5 531.6V540.1M835.5 526.4V533.8M836.5 525.0V531.8M837.5 526.8V532.7M838.5 529.9V537.5M839.5 532.8V542.9M840.5 540.0V549.0M841.5 546.8V554.9M842.5 552.7V559.4M843.5 554.8V565.9M844.5 561.0V568.1M845.5 563.5V569.4M846.5 566.6V574.0M847.5 571.2V581.7M848.5 575.2V582.2M849.5 579.4V585.8M850.5 582.1V587.4M851.5 584.9V589.5M852.5 576.3V588.0M853.5 574.1V584.1M854.5 565.2V577.8M855.5 552.0V567.6M856.5 543.5V557.2M857.5 544.2V548.1M858.5 543.9V551.6M859.5 546.5V550.6M860.5 539.5V548.9M861.5 536.5V543.4M862.5 537.7V547.1M863.5 542.6V554.3M864.5 549.6V554.3M865.5 542.6V553.9M866.5 544.2V548.6M867.5 544.1V553.7M868.5 548.8V559.9M869.5 556.0V564.7M870.5 559.0V564.4M871.5 561.9V566.1M872.5 561.2V567.2M873.5 560.9V566.4M874.5 563.9V576.6M875.5 570.8V587.8M876.5 583.2V596.8M877.5 593.2V605.8M878.5 602.3V610.6M879.5 607.6V611.5M880.5 598.7V612.1M881.5 586.1V603.4M882.5 589.3V597.4M883.5 593.5V606.8M884.5 601.5V607.4M885.5 603.4V612.1M886.5 605.8V609.9M887.5 604.4V609.7M888.5 604.2V611.7M889.5 602.2V607.8M890.5 599.6V606.3M891.5 595.3V604.5M892.5 590.0V599.6M893.5 587.5V595.6M894.5 590.6V600.1M895.5 595.3V609.3M896.5 604.5V612.8M897.5 609.5V617.8M898.5 613.5V622.5M899.5 619.8V622.4M900.5 619.0V625.7M901.5 620.4V625.5M902.5 624.0V628.9M903.5 623.5V630.4M904.5 615.1V627.8M905.5 612.0V617.5M906.5 612.3V614.7M907.5 613.1V618.0M908.5 612.1V617.6M909.5 614.1V617.1M910.5 613.8V619.0M911.5 614.0V618.4M912.5 614.8V618.9M913.5 615.5V619.6M914.5 613.4V618.4M915.5 607.4V614.9M916.5 606.0V609.4M917.5 601.3V610.7M918.5 601.6V606.8M919.5 601.6V606.2M920.5 599.1V610.1M921.5 605.0V607.5M922.5 603.9V609.9M923.5 604.9V614.3M924.5 608.7V617.6M925.5 609.7V618.4M926.5 600.6V614.4M927.5 594.3V605.5M928.5 588.8V597.4M929.5 580.3V592.1M930.5 579.9V585.4M931.5 578.1V583.9M932.5 575.4V581.0M933.5 570.6V580.6M934.5 563.9V571.9M935.5 563.6V572.9M936.5 569.0V576.2M937.5 575.1V580.1M938.5 576.3V579.9M939.5 577.5V584.4M940.5 572.6V581.4M941.5 570.4V578.2M942.5 567.0V574.0M943.5 561.6V569.9M944.5 563.4V573.2M945.5 568.3V574.3M946.5 572.6V578.4M947.5 575.6V578.7M948.5 572.7V579.8M949.5 573.6V578.7M950.5 574.6V577.4M951.5 572.6V577.0M952.5 570.0V577.4M953.5 575.0V579.2M954.5 577.5V580.7M955.5 577.1V582.0M956.5 577.8V581.5M957.5 578.0V582.8M958.5 577.3V585.3M959.5 579.5V586.6M960.5 583.2V589.3M961.5 585.1V587.2M962.5 582.5V590.5M963.5 584.4V589.8M964.5 577.0V585.6M965.5 580.2V587.0M966.5 585.0V594.7M967.5 591.7V595.0M968.5 590.6V596.1M969.5 587.8V592.7M970.5 587.4V593.8M971.5 591.7V597.1M972.5 595.3V604.7M973.5 598.9V609.8M974.5 607.7V618.1M975.5 606.0V616.0M976.5 598.2V613.0M977.5 594.9V605.0M978.5 593.6V605.8M979.5 602.2V612.7M980.5 604.7V610.8M981.5 596.3V609.9M982.5 592.1V603.8M983.5 589.9V599.9M984.5 587.7V592.9M985.5 583.9V590.3M986.5 585.8V589.5M987.5 586.6V591.0M988.5 588.4V594.7M989.5 590.5V594.3M990.5 591.1V597.1M991.5 594.3V596.4M992.5 592.8V598.7M993.5 591.6V599.0M994.5 596.8V605.7M995.5 598.4V606.9M996.5 595.2V603.3M997.5 589.3V598.2M998.5 589.0V596.0M999.5 591.2V594.5M1000.5 591.0V594.9M1001.5 591.3V599.0M1002.5 596.4V599.4M1003.5 598.2V603.9M1004.5 600.5V611.7M1005.5 606.6V610.9M1006.5 606.8V610.8M1007.5 606.8V608.4M1008.5 605.5V612.9M1009.5 608.3V612.5M1010.5 606.8V613.6M1011.5 607.4V614.6M1012.5 608.3V613.7M1013.5 608.4V616.3M1014.5 613.7V621.9M1015.5 618.1V625.8M1016.5 622.0V629.9M1017.5 621.6V630.6M1018.5 621.4V628.7M1019.5 621.3V627.0M1020.5 618.8V623.9M1021.5 615.8V621.0M1022.5 615.7V620.5M1023.5 615.1V619.6M1024.5 610.7V617.0M1025.5 603.5V616.1M1026.5 591.6V606.4M1027.5 588.0V596.2M1028.5 582.5V591.2M1029.5 582.2V586.1M1030.5 580.7V589.6M1031.5 587.5V591.5M1032.5 584.4V589.8M1033.5 580.9V589.8M1034.5 580.8V586.4M1035.5 581.7V587.3M1036.5 582.8V591.4M1037.5 583.6V593.1M1038.5 587.1V594.9M1039.5 591.2V596.5M1040.5 590.9V600.8M1041.5 595.9V600.9M1042.5 594.2V602.0M1043.5 592.8V598.5M1044.5 588.4V594.7M1045.5 589.2V591.6M1046.5 588.5V595.2M1047.5 592.6V596.0M1048.5 594.4V601.2M1049.5 596.6V602.3M1050.5 594.1V604.0M1051.5 592.7V600.2M1052.5 590.1V596.3M1053.5 589.0V592.7M1054.5 586.4V593.9M1055.5 586.2V591.0M1056.5 586.9V592.1M1057.5 585.0V590.4M1058.5 584.1V591.6M1059.5 577.3V585.5M1060.5 575.8V585.1M1061.5 572.2V578.3M1062.5 567.6V574.5M1063.5 566.3V571.8M1064.5 570.1V572.7M1065.5 569.4V572.4M1066.5 567.9V571.7M1067.5 562.9V569.6M1068.5 563.0V568.9M1069.5 560.9V568.2M1070.5 561.5V570.3M1071.5 566.4V572.0M1072.5 568.7V571.2M1073.5 565.3V572.3M1074.5 566.3V571.9M1075.5 567.6V572.7M1076.5 567.4V571.9M1077.5 566.2V573.1M1078.5 560.7V571.4M1079.5 558.8V564.6M1080.5 554.2V560.6M1081.5 554.5V559.7M1082.5 552.9V558.8M1083.5 554.0V563.3M1084.5 559.3V569.5M1085.5 565.0V571.0M1086.5 567.6V575.3M1087.5 572.2V575.5M1088.5 572.2V577.2M1089.5 575.7V578.1M1090.5 575.2V581.1M1091.5 572.2V577.3M1092.5 572.1V580.0M1093.5 576.3V585.6M1094.5 581.5V585.2M1095.5 583.4V590.2M1096.5 585.5V590.8M1097.5 588.6V594.2M1098.5 590.4V596.4M1099.5 593.3V597.9M1100.5 594.0V600.5M1101.5 597.4V603.6M1102.5 601.6V607.8M1103.5 606.6V612.1M1104.5 610.1V617.6M1105.5 615.2V623.4M1106.5 618.1V623.6M1107.5 616.7V622.4M1108.5 612.7V620.2M1109.5 609.4V614.3M1110.5 608.6V615.3M1111.5 610.0V613.1M1112.5 606.2V612.2M1113.5 606.1V613.4M1114.5 603.9V610.3M1115.5 603.9V608.8M1116.5 606.8V612.1M1117.5 607.0V616.7M1118.5 610.3V620.4M1119.5 618.1V632.1M1120.5 627.1V663.0M1121.5 655.6V661.6M1122.5 656.3V659.9M1123.5 656.9V659.6M1124.5 656.7V660.9M1125.5 655.2V658.6M1126.5 651.3V657.6M1127.5 650.5V653.5M1128.5 650.8V654.2M1129.5 652.0V657.0M1130.5 655.0V660.4M1131.5 658.1V660.2M1132.5 657.9V662.8M1133.5 655.7V663.3M1134.5 653.2V661.3M1135.5 651.4V658.7M1136.5 650.3V657.2M1137.5 646.9V652.7M1138.5 647.6V654.7M1139.5 646.8V651.2M1140.5 645.1V649.3M1141.5 645.2V649.3M1142.5 642.5V650.4M1143.5 641.8V644.6M1144.5 637.3V643.4M1145.5 636.7V643.0M1146.5 631.3V639.1M1147.5 630.9V636.9M1148.5 623.7V635.3M1149.5 622.7V629.1M1150.5 617.6V624.7M1151.5 615.1V619.9M1152.5 612.4V620.4M1153.5 612.4V621.8M1154.5 616.7V621.8M1155.5 617.5V623.0M1156.5 621.3V624.8M1157.5 623.3V628.4M1158.5 624.7V628.5M1159.5 624.4V634.0M1160.5 626.2V637.0M1161.5 630.4V636.0M1162.5 630.6V635.5M1163.5 627.1V634.6M1164.5 626.3V632.8M1165.5 624.5V628.0M1166.5 618.4V629.0M1167.5 615.2V625.7M1168.5 616.1V625.8M1169.5 618.7V626.7M1170.5 624.4V630.2M1171.5 619.0V627.8M1172.5 616.1V624.2M1173.5 612.0V619.2M1174.5 609.8V615.8M1175.5 608.5V614.6M1176.5 605.8V609.9M1177.5 600.8V607.5M1178.5 593.5V604.7M1179.5 583.9V597.3M1180.5 578.2V590.5M1181.5 568.8V581.6M1182.5 561.3V571.5M1183.5 561.2V570.6M1184.5 563.4V572.9M1185.5 551.2V572.9M1186.5 547.9V556.8M1187.5 546.2V563.4M1188.5 557.8V574.4M1189.5 568.4V579.8M1190.5 567.3V579.4M1191.5 558.3V572.6M1192.5 552.9V566.1M1193.5 539.8V555.2M1194.5 526.8V542.5M1195.5 520.3V530.0M1196.5 513.7V525.0M1197.5 514.1V526.7M1198.5 523.8V540.8M1199.5 535.8V545.3M1200.5 535.2V544.3M1201.5 530.0V538.1M1202.5 528.7V538.4M1203.5 532.4V544.6M1204.5 539.0V548.3M1205.5 531.0V547.7M1206.5 523.3V537.0M1207.5 524.8V536.2M1208.5 528.4V542.7M1209.5 540.8V554.1M1210.5 546.9V553.8M1211.5 542.2V550.4M1212.5 535.2V547.3M1213.5 531.5V542.6M1214.5 530.8V533.1M1215.5 525.7V532.2M1216.5 526.4V532.8M1217.5 522.1V530.8M1218.5 517.3V523.2M1219.5 510.7V519.4M1220.5 505.5V514.0M1221.5 499.8V510.5M1222.5 494.6V503.9M1223.5 490.8V497.7M1224.5 484.8V495.6M1225.5 484.8V495.1M1226.5 491.4V506.1M1227.5 500.2V511.9M1228.5 509.2V523.8M1229.5 517.8V533.5M1230.5 527.1V533.0M1231.5 520.5V529.3M1232.5 513.3V525.7M1233.5 512.7V515.6M1234.5 510.0V515.5M1235.5 509.4V514.9M1236.5 505.0V512.9M1237.5 501.6V511.6M1238.5 499.0V503.0M1239.5 497.3V504.7M1240.5 498.0V505.5M1241.5 500.3V504.5M1242.5 502.3V507.5M1243.5 503.1V510.4M1244.5 508.3V516.5M1245.5 512.2V520.5M1246.5 513.9V522.4M1247.5 520.0V529.5M1248.5 525.2V532.5M1249.5 530.7V535.7M1250.5 533.4V540.9M1251.5 531.3V538.9M1252.5 520.2V536.7M1253.5 515.0V527.8M1254.5 510.4V517.2M1255.5 511.8V515.0M1256.5 508.2V513.9M1257.5 505.5V512.5M1258.5 498.4V508.5M1259.5 492.3V503.9M1260.5 494.8V500.7M1261.5 498.5V506.5M1262.5 500.9V510.4M1263.5 502.9V514.8M1264.5 510.1V518.8M1265.5 515.3V525.6M1266.5 518.9V527.9M1267.5 510.4V523.3M1268.5 508.6V516.4M1269.5 502.1V512.1M1270.5 501.9V507.8M1271.5 505.3V508.9M1272.5 503.9V512.8M1273.5 506.3V513.1M1274.5 508.4V513.5M1275.5 510.2V513.0M1276.5 511.5V513.2M1277.5 511.1V515.9M1278.5 511.3V520.9M1279.5 518.2V522.1M1280.5 518.8V527.5M1281.5 522.1V526.2M1282.5 516.0V524.8M1283.5 518.6V520.5M1284.5 514.1V520.5"/>
<path fill="none" stroke="#ffffff" stroke-width="1" shape-rendering="crispEdges" d="M1.5 156.3V159.6M2.5 158.2V192.3M3.5 185.1V193.7M4.5 173.5V186.5M5.5 158.6V172.3M6.5 148.6V163.1M7.5 147.7V150.7M8.5 146.4V167.8M9.5 169.0V171.8M10.5 153.1V173.9M11.5 132.7V155.2M12.5 99.3V133.5M13.5 97.2V124.0M14.5 122.0V140.4M15.5 138.2V157.2M16.5 143.9V157.1M17.5 130.9V146.4M18.5 111.2V130.9M19.5 100.3V115.3M20.5 85.8V99.8M21.5 78.0V90.5M22.5 72.0V80.6M23.5 60.1V71.3M24.5 54.2V63.3M25.5 55.6V79.5M26.5 71.1V78.4M27.5 68.0V94.7M28.5 91.9V157.9M29.5 146.2V156.6M30.5 124.3V151.6M31.5 108.3V123.9M32.5 99.3V110.2M33.5 94.7V100.5M34.5 94.3V106.4M35.5 104.8V136.0M36.5 130.0V133.0M37.5 124.4V129.4M38.5 122.2V132.2M39.5 126.8V141.6M40.5 139.9V145.6M41.5 146.2V150.8M42.5 142.6V151.7M43.5 128.5V144.5M44.5 108.7V128.1M45.5 106.0V108.1M46.5 104.6V127.6M47.5 127.3V141.6M48.5 142.5V147.8M49.5 147.2V158.6M50.5 153.2V180.4M51.5 179.3V195.5M52.5 196.8V215.6M53.5 213.5V234.7M54.5 232.6V258.0M55.5 256.4V266.7M56.5 262.8V268.5M57.5 257.8V267.6M58.5 260.2V264.2M59.5 262.0V271.3M60.5 261.2V269.8M61.5 254.7V265.2M62.5 248.5V257.3M63.5 245.9V261.6M64.5 259.2V276.8M65.5 268.6V277.9M66.5 262.2V269.3M67.5 259.8V268.3M68.5 266.2V277.4M69.5 274.6V283.1M70.5 277.1V281.1M71.5 267.9V279.6M72.5 257.2V270.0M73.5 246.8V260.0M74.5 240.0V249.8M75.5 232.8V243.4M76.5 217.5V235.1M77.5 208.0V219.9M78.5 207.4V213.0M79.5 211.6V221.7M80.5 220.9V232.9M81.5 230.7V232.3M82.5 225.6V232.3M83.5 223.7V230.9M84.5 219.4V223.4M85.5 213.3V218.6M86.5 213.9V215.4M87.5 208.5V215.0M88.5 207.2V215.7M89.5 212.3V218.1M90.5 219.1V224.0M91.5 215.6V223.5M92.5 205.2V216.4M93.5 198.0V209.6M94.5 187.8V197.8M95.5 185.1V191.1M96.5 174.2V187.4M97.5 160.3V178.2M98.5 149.8V163.6M99.5 138.2V155.2M100.5 128.4V142.2M101.5 127.1V138.2M102.5 134.6V144.2M103.5 138.9V151.5M104.5 151.8V166.9M105.5 165.7V168.1M106.5 166.0V170.1M107.5 170.5V179.8M108.5 177.7V186.2M109.5 183.9V197.0M110.5 192.6V203.2M111.5 202.7V211.2M112.5 210.4V219.7M113.5 214.9V225.5M114.5 224.4V231.8M115.5 231.7V234.7M116.5 225.0V232.9M117.5 224.6V228.4M118.5 224.2V235.0M119.5 235.3V246.0M120.5 227.0V244.1M121.5 212.1V228.4M122.5 210.4V220.1M123.5 217.8V227.4M124.5 224.2V240.4M125.5 237.9V251.3M126.5 247.2V264.6M127.5 265.3V279.9M128.5 278.3V290.1M129.5 280.8V292.1M130.5 273.7V281.1M131.5 267.1V273.8M132.5 263.1V268.4M133.5 263.6V276.5M134.5 273.7V280.0M135.5 272.6V278.9M136.5 267.1V278.0M137.5 269.1V275.2M138.5 272.7V278.6M139.5 276.0V287.3M140.5 285.4V295.3M141.5 293.2V308.2M142.5 308.2V322.1M143.5 318.7V326.6M144.5 313.2V323.5M145.5 312.2V317.6M146.5 313.2V322.0M147.5 321.5V336.5M148.5 334.6V356.7M149.5 354.4V373.8M150.5 368.4V383.1M151.5 383.0V399.4M152.5 397.0V407.7M153.5 386.4V406.4M154.5 367.7V390.4M155.5 359.3V369.9M156.5 361.6V362.1M157.5 359.7V385.3M158.5 380.8V393.1M159.5 389.2V395.1M160.5 391.6V401.3M161.5 396.5V405.7M162.5 400.5V409.7M163.5 401.3V411.7M164.5 386.4V403.5M165.5 383.0V389.3M166.5 383.9V385.2M167.5 385.1V390.4M168.5 386.1V392.2M169.5 391.2V396.9M170.5 393.9V402.1M171.5 397.9V403.0M172.5 400.9V405.7M175.5 397.2V402.3M176.5 393.7V399.3M177.5 393.7V397.5M178.5 396.8V402.1M179.5 391.2V400.5M180.5 377.6V391.6M181.5 357.8V377.7M182.5 344.7V361.7M183.5 329.9V346.6M184.5 331.4V346.2M185.5 344.3V350.5M186.5 351.5V357.5M187.5 349.3V354.6M188.5 343.0V354.2M189.5 340.1V346.3M190.5 334.9V340.5M191.5 326.1V338.2M192.5 310.3V330.8M193.5 302.7V313.6M194.5 295.7V303.5M195.5 280.2V297.1M196.5 280.1V322.9M197.5 320.5V335.8M198.5 323.3V337.6M199.5 317.9V328.7M200.5 315.0V323.8M201.5 320.7V330.5M202.5 328.3V340.6M203.5 339.3V350.8M204.5 345.4V359.5M205.5 356.8V359.3M206.5 353.6V358.4M207.5 349.9V356.6M208.5 342.2V350.7M209.5 336.0V343.3M210.5 327.7V338.5M211.5 320.2V331.2M212.5 318.4V322.7M213.5 318.0V330.1M214.5 328.3V339.4M215.5 325.9V339.4M216.5 321.4V328.4M217.5 319.2V321.4M218.5 313.7V319.3M219.5 312.3V314.7M220.5 315.5V324.7M221.5 321.1V333.0M222.5 331.2V333.9M223.5 334.0V335.4M224.5 334.0V341.4M225.5 332.8V340.9M226.5 322.4V335.6M227.5 318.9V327.8M228.5 321.7V324.0M229.5 321.4V324.1M230.5 319.8V322.8M231.5 316.0V320.6M232.5 318.9V321.4M234.5 309.6V320.2M235.5 304.1V310.0M236.5 305.8V313.4M237.5 308.8V318.6M238.5 316.4V320.4M239.5 317.5V322.8M240.5 323.1V332.0M241.5 329.3V339.4M242.5 336.5V352.7M243.5 349.1V357.7M244.5 353.1V362.0M245.5 358.9V372.3M246.5 366.9V376.6M247.5 366.6V375.8M248.5 355.6V367.9M249.5 352.9V361.0M250.5 354.7V356.2M251.5 356.5V363.1M252.5 361.0V367.6M253.5 365.1V372.3M254.5 373.2V374.2M255.5 372.7V373.1M257.5 366.3V372.3M258.5 363.1V367.5M259.5 356.1V363.8M260.5 347.0V356.8M261.5 343.4V349.7M262.5 342.9V348.8M263.5 341.1V346.3M264.5 338.5V342.4M265.5 342.5V345.9M266.5 330.5V343.0M267.5 331.1V333.6M268.5 329.7V340.5M269.5 339.6V344.2M270.5 341.7V348.1M271.5 346.8V348.2M272.5 345.9V348.5M273.5 343.0V349.5M274.5 347.9V351.6M275.5 346.3V352.2M276.5 329.0V347.5M277.5 328.0V331.9M278.5 325.7V329.4M279.5 327.7V331.6M280.5 331.4V337.1M281.5 335.3V338.7M282.5 338.4V344.9M283.5 344.0V347.2M284.5 346.7V358.1M285.5 356.0V362.8M286.5 361.3V362.9M287.5 363.9V367.3M288.5 362.6V367.9M289.5 368.1V372.9M290.5 370.8V372.2M291.5 363.4V370.4M292.5 359.0V363.2M293.5 359.1V364.5M294.5 362.3V365.7M295.5 363.2V367.6M296.5 363.0V364.6M297.5 360.7V362.4M298.5 356.2V359.6M299.5 350.0V356.0M300.5 352.2V354.7M301.5 353.5V354.7M302.5 354.5V355.1M303.5 353.1V364.5M304.5 361.4V371.6M305.5 370.7V377.3M306.5 376.7V380.8M307.5 378.4V384.7M308.5 384.2V386.1M309.5 383.4V384.8M310.5 383.8V385.4M311.5 382.5V392.3M312.5 390.3V397.5M313.5 395.4V401.5M314.5 401.0V410.2M315.5 408.9V416.1M316.5 410.0V418.4M317.5 399.2V410.2M318.5 393.3V399.7M319.5 387.9V394.9M320.5 385.4V392.4M321.5 382.3V385.6M322.5 379.7V384.8M324.5 382.8V389.2M325.5 385.3V390.3M326.5 388.6V391.7M327.5 391.2V394.3M328.5 394.4V400.0M329.5 399.3V407.5M330.5 406.9V413.4M331.5 412.2V415.1M332.5 412.8V418.5M333.5 416.6V420.6M334.5 417.6V426.2M335.5 422.1V430.5M336.5 427.7V433.1M337.5 427.6V433.4M338.5 419.8V430.9M339.5 411.0V422.8M340.5 407.9V413.3M341.5 408.6V411.6M342.5 412.7V414.5M343.5 414.8V417.7M344.5 415.9V421.8M345.5 422.3V426.5M346.5 424.4V437.8M347.5 434.9V443.5M348.5 441.7V448.6M349.5 444.7V448.9M350.5 441.9V444.8M351.5 441.6V442.2M352.5 442.3V443.8M353.5 444.2V447.5M354.5 443.3V446.8M355.5 444.0V444.5M356.5 441.3V449.0M357.5 446.4V451.8M358.5 446.4V451.3M359.5 451.2V452.6M360.5 450.2V457.0M361.5 454.6V462.6M362.5 460.5V465.3M363.5 463.2V472.0M364.5 467.9V472.1M366.5 467.3V472.6M367.5 462.1V466.8M368.5 454.6V463.7M369.5 449.8V456.5M370.5 452.7V455.5M371.5 455.8V459.3M372.5 458.8V461.8M373.5 458.5V459.6M374.5 457.4V460.1M375.5 451.4V458.2M376.5 442.1V450.7M377.5 434.1V446.5M378.5 421.2V433.1M379.5 409.7V426.6M380.5 399.8V409.5M381.5 393.3V401.4M382.5 385.8V393.9M383.5 386.4V395.7M384.5 392.5V403.3M385.5 400.4V403.5M386.5 395.0V403.2M387.5 391.3V395.7M388.5 391.4V393.6M389.5 391.9V397.8M390.5 395.6V400.9M391.5 393.9V398.6M392.5 388.0V393.5M393.5 383.1V390.9M394.5 378.2V383.2M395.5 373.9V378.9M396.5 368.2V373.4M397.5 366.4V368.3M398.5 366.7V371.7M399.5 369.9V374.3M400.5 370.6V376.2M401.5 374.2V375.2M402.5 372.8V375.4M403.5 373.3V379.7M404.5 379.8V388.3M405.5 383.9V392.9M406.5 393.2V397.2M407.5 397.9V402.2M408.5 397.7V404.0M409.5 401.7V406.2M410.5 406.1V416.8M411.5 411.4V421.8M412.5 421.5V433.6M413.5 433.4V440.6M414.5 436.6V443.7M415.5 436.9V445.3M416.5 426.9V438.9M417.5 424.6V427.7M419.5 424.1V432.0M420.5 428.9V439.7M421.5 438.3V440.4M422.5 439.6V442.8M423.5 443.1V444.8M424.5 444.8V449.8M425.5 447.0V448.4M426.5 446.1V450.9M427.5 448.1V453.4M428.5 454.1V455.6M429.5 455.6V461.4M430.5 459.1V461.4M432.5 459.1V461.1M433.5 451.5V459.5M434.5 439.1V451.9M435.5 432.2V440.1M436.5 425.6V433.2M437.5 418.5V425.2M438.5 418.4V421.2M439.5 415.1V419.3M440.5 411.9V416.6M441.5 409.6V415.4M442.5 406.5V412.0M443.5 401.2V406.0M444.5 402.9V406.0M445.5 407.1V409.9M446.5 409.8V416.2M447.5 415.5V422.4M448.5 418.1V423.2M449.5 409.9V418.0M450.5 410.4V415.1M451.5 413.0V418.5M452.5 419.0V423.7M453.5 424.3V430.9M454.5 429.6V436.4M455.5 436.7V441.0M456.5 438.1V441.7M457.5 433.7V441.1M458.5 429.0V436.0M459.5 422.7V431.8M460.5 421.9V426.3M461.5 423.1V429.3M462.5 424.3V432.3M463.5 423.5V432.7M464.5 415.3V423.1M465.5 412.2V415.0M466.5 407.2V411.6M467.5 408.3V411.8M468.5 411.6V415.3M469.5 413.5V418.8M470.5 413.8V420.4M471.5 420.5V425.2M472.5 422.5V432.4M473.5 431.5V438.3M474.5 436.9V440.8M475.5 434.4V440.7M476.5 433.6V435.9M477.5 432.1V432.9M478.5 433.2V436.6M479.5 437.6V442.3M480.5 440.2V446.1M481.5 443.0V448.5M482.5 449.3V452.9M483.5 450.9V452.3M484.5 449.6V452.5M485.5 448.6V453.5M486.5 450.5V460.1M487.5 457.6V468.4M488.5 463.8V466.5M489.5 459.7V462.7M490.5 457.6V462.1M491.5 457.1V460.8M492.5 459.6V462.0M493.5 462.5V463.5M494.5 459.2V461.5M495.5 453.7V458.3M497.5 456.3V458.2M498.5 456.3V464.0M499.5 460.6V465.8M500.5 461.3V466.1M501.5 464.0V465.9M503.5 466.0V468.2M504.5 468.8V469.2M505.5 468.9V470.7M506.5 471.1V483.0M507.5 483.2V494.2M508.5 492.0V515.2M509.5 510.6V518.0M510.5 500.6V513.7M511.5 486.3V500.4M512.5 489.0V493.6M513.5 493.1V501.0M514.5 494.5V501.0M515.5 492.2V496.8M516.5 492.1V493.3M517.5 488.8V493.1M518.5 485.5V489.4M519.5 473.9V484.7M520.5 470.5V478.7M521.5 470.9V477.2M522.5 472.9V479.4M523.5 474.9V478.3M524.5 472.0V477.9M525.5 468.0V473.1M526.5 461.7V468.8M527.5 453.8V462.9M528.5 446.0V453.7M529.5 446.5V450.3M530.5 448.7V451.0M531.5 444.5V451.0M532.5 439.6V445.3M533.5 439.7V444.2M534.5 443.5V449.5M535.5 448.0V452.2M536.5 444.6V449.4M537.5 443.6V447.3M538.5 442.1V444.0M539.5 439.4V443.1M540.5 433.5V439.2M541.5 431.2V435.8M542.5 430.8V434.0M543.5 426.3V434.6M544.5 417.5V428.3M545.5 414.2V422.5M546.5 412.4V419.2M547.5 418.8V423.1M548.5 422.5V429.7M549.5 428.0V436.2M550.5 435.1V443.6M551.5 442.4V452.6M552.5 445.9V449.9M553.5 436.2V450.2M554.5 424.7V439.1M555.5 421.8V431.4M556.5 427.6V441.2M557.5 436.2V443.4M558.5 441.2V445.4M559.5 443.5V445.7M560.5 442.4V449.7M561.5 450.6V453.8M562.5 451.2V458.5M563.5 452.8V459.8M564.5 453.5V458.1M565.5 452.8V453.6M566.5 453.5V453.9M567.5 454.3V456.4M568.5 456.6V459.6M569.5 457.7V463.8M570.5 461.4V468.9M571.5 468.2V477.3M572.5 475.1V475.5M573.5 473.8V475.2M574.5 473.9V476.8M575.5 474.2V479.4M576.5 479.5V482.2M577.5 482.6V487.6M578.5 485.2V494.3M579.5 490.1V493.2M580.5 483.1V491.0M581.5 476.5V483.0M582.5 472.4V479.4M583.5 466.6V473.6M584.5 466.5V472.1M585.5 468.2V475.6M586.5 472.6V476.0M587.5 472.1V475.3M588.5 472.2V474.6M589.5 474.9V479.1M590.5 476.6V482.8M591.5 480.3V486.7M592.5 486.7V492.0M593.5 491.1V497.9M594.5 497.8V501.8M595.5 499.0V503.7M596.5 501.0V510.5M597.5 511.2V514.5M598.5 495.6V513.5M599.5 484.0V496.8M600.5 476.3V487.9M601.5 476.7V484.4M602.5 482.0V489.1M603.5 486.2V490.4M604.5 489.6V493.9M605.5 488.9V491.3M606.5 478.1V487.9M607.5 469.6V481.3M608.5 470.8V476.5M609.5 474.9V477.3M610.5 476.5V479.5M611.5 476.5V477.3M612.5 476.7V478.0M613.5 477.5V484.4M614.5 484.4V490.5M615.5 489.2V494.4M616.5 492.6V499.3M617.5 499.8V504.5M618.5 503.5V509.9M619.5 507.0V514.5M620.5 512.2V520.5M621.5 517.2V527.3M622.5 524.4V534.4M623.5 533.5V539.4M624.5 523.3V538.6M625.5 523.0V526.4M626.5 522.7V530.8M627.5 521.5V528.1M628.5 518.8V523.7M629.5 517.2V521.4M630.5 516.0V522.6M631.5 521.7V525.9M632.5 524.4V528.3M633.5 527.9V528.6M634.5 528.0V532.6M635.5 532.9V543.9M636.5 531.9V543.5M637.5 524.4V532.5M638.5 524.0V528.1M639.5 529.0V534.5M640.5 531.6V540.4M641.5 541.0V548.9M642.5 548.0V555.3M643.5 551.7V555.9M644.5 542.6V553.3M645.5 533.1V543.0M646.5 513.6V533.2M647.5 508.6V516.8M648.5 504.7V511.2M649.5 504.2V508.8M650.5 504.6V516.8M651.5 516.3V528.1M652.5 514.6V529.8M653.5 506.5V516.9M654.5 508.5V512.4M655.5 511.8V519.1M656.5 510.3V515.8M657.5 509.3V513.1M658.5 510.6V512.5M659.5 510.7V516.8M660.5 517.8V524.2M661.5 522.4V525.4M662.5 525.9V533.0M663.5 530.6V534.4M664.5 533.6V537.6M665.5 530.0V534.6M666.5 519.5V530.5M667.5 507.6V521.1M668.5 499.4V509.9M669.5 494.4V500.3M670.5 494.3V495.9M671.5 495.0V498.4M672.5 497.7V500.8M673.5 499.2V502.3M674.5 499.2V503.2M675.5 503.4V509.3M676.5 507.0V511.7M677.5 511.8V518.0M678.5 516.3V520.1M679.5 516.5V519.5M680.5 518.7V521.0M681.5 521.3V526.5M682.5 523.9V525.3M683.5 515.9V522.9M684.5 506.6V517.7M685.5 507.4V513.6M686.5 514.2V518.3M687.5 515.9V519.6M688.5 515.4V521.5M689.5 515.4V520.3M690.5 518.9V524.9M691.5 517.9V521.7M692.5 507.7V517.4M693.5 500.1V508.8M694.5 499.8V506.2M695.5 503.7V513.1M696.5 510.8V519.6M697.5 515.5V519.0M698.5 517.3V523.7M699.5 521.6V527.5M700.5 524.7V528.2M701.5 523.2V527.8M702.5 518.2V523.8M703.5 515.7V523.6M704.5 511.3V518.2M705.5 508.1V515.8M706.5 515.6V523.6M707.5 516.4V523.5M708.5 511.8V518.5M709.5 506.1V514.2M710.5 501.2V510.7M711.5 499.4V503.5M712.5 499.4V502.7M713.5 501.2V505.0M714.5 504.4V506.5M715.5 504.4V508.9M716.5 508.6V510.7M717.5 504.7V513.5M718.5 501.5V510.1M719.5 503.1V504.6M720.5 496.8V503.7M721.5 491.8V497.1M722.5 491.2V497.2M723.5 486.3V494.5M724.5 484.4V488.4M725.5 479.2V484.5M726.5 478.0V483.1M727.5 479.0V487.0M728.5 479.9V484.5M729.5 478.5V484.1M730.5 478.0V478.9M731.5 476.9V482.1M732.5 482.0V489.1M733.5 486.6V490.5M734.5 488.2V493.7M735.5 493.9V497.5M736.5 497.2V504.1M738.5 494.3V502.8M739.5 496.4V498.8M740.5 497.2V500.0M741.5 500.1V503.9M742.5 501.2V507.6M743.5 498.7V506.8M744.5 497.3V502.6M745.5 492.6V498.9M746.5 490.4V495.6M747.5 490.7V494.4M748.5 492.3V499.2M749.5 496.9V507.5M750.5 504.3V507.5M751.5 497.7V504.0M752.5 498.3V501.7M753.5 495.2V498.7M754.5 497.4V497.9M755.5 496.2V497.1M756.5 487.5V495.0M757.5 477.3V488.1M758.5 476.2V479.6M759.5 476.2V482.7M760.5 483.6V488.5M761.5 486.3V495.6M762.5 495.5V500.1M763.5 498.1V505.9M764.5 502.9V510.1M765.5 505.7V511.9M766.5 494.6V504.7M767.5 497.9V501.9M768.5 502.7V507.8M769.5 506.5V514.7M770.5 512.1V525.3M771.5 524.9V526.4M772.5 519.7V526.3M773.5 518.7V531.0M774.5 530.1V541.4M775.5 540.1V541.9M776.5 530.9V540.3M777.5 528.6V540.5M778.5 535.3V544.6M779.5 545.2V548.2M780.5 541.8V548.4M781.5 535.4V543.2M782.5 533.5V539.4M783.5 527.6V535.7M784.5 524.9V528.2M785.5 522.3V526.1M786.5 516.7V522.5M787.5 517.2V525.8M788.5 522.0V533.7M789.5 526.1V533.6M790.5 522.1V530.2M791.5 523.9V529.9M792.5 529.0V539.2M793.5 535.9V539.0M794.5 529.3V535.8M795.5 521.4V531.8M796.5 521.1V536.1M797.5 532.0V545.6M798.5 541.5V560.4M799.5 560.9V578.0M800.5 576.0V588.6M801.5 587.2V601.5M802.5 591.2V599.9M803.5 588.6V596.6M804.5 574.4V588.0M805.5 565.8V579.8M806.5 566.6V574.4M807.5 572.2V582.8M808.5 577.0V583.7M809.5 571.2V579.3M810.5 564.0V572.2M811.5 554.9V563.9M812.5 547.2V558.7M813.5 538.9V548.1M814.5 529.3V539.9M815.5 528.9V535.3M816.5 529.9V537.7M817.5 535.1V541.7M818.5 535.6V539.7M819.5 533.8V538.3M820.5 532.5V541.1M821.5 541.0V549.0M822.5 548.4V550.3M823.5 550.3V553.6M824.5 550.3V554.6M825.5 547.0V554.0M826.5 543.5V546.3M827.5 544.4V551.5M828.5 548.8V553.5M829.5 539.8V552.5M830.5 530.6V540.1M831.5 531.6V534.9M832.5 534.4V538.3M833.5 535.1V540.9M834.5 534.8V540.2M835.5 532.8V538.9M836.5 527.6V532.6M837.5 526.2V530.6M838.5 528.0V531.5M839.5 531.1V536.3M840.5 534.0V541.7M841.5 541.2V547.8M842.5 548.0V553.7M843.5 553.9V558.2M844.5 556.0V564.7M845.5 562.2V566.9M846.5 564.7V568.2M847.5 567.8V572.8M848.5 572.4V580.5M849.5 576.4V581.0M850.5 580.6V584.6M851.5 583.3V586.2M852.5 586.1V588.3M853.5 577.5V586.8M854.5 575.3V582.9M855.5 566.4V576.6M856.5 553.2V566.4M857.5 544.7V556.0M858.5 545.4V546.9M859.5 545.1V550.4M860.5 547.7V549.4M861.5 540.7V547.7M862.5 537.7V542.2M863.5 538.9V545.9M864.5 543.8V553.1M865.5 550.8V553.1M866.5 543.8V552.7M867.5 545.4V547.4M868.5 545.3V552.5M869.5 550.0V558.7M870.5 557.2V563.5M871.5 560.2V563.2M872.5 563.1V564.9M873.5 562.4V566.0M874.5 562.1V565.2M875.5 565.1V575.4M876.5 572.0V586.6M877.5 584.4V595.6M878.5 594.4V604.6M879.5 603.5V609.4M880.5 608.8V610.3M881.5 599.9V610.9M882.5 587.3V602.2M883.5 590.5V596.2M884.5 594.7V605.6M885.5 602.7V606.2M886.5 604.6V610.9M887.5 607.0V608.7M888.5 605.6V608.5M889.5 605.4V610.5M890.5 603.4V606.6M891.5 600.8V605.1M892.5 596.5V603.3M893.5 591.2V598.4M894.5 588.7V594.4M895.5 591.8V598.9M896.5 596.5V608.1M897.5 605.7V611.6M898.5 610.7V616.6M899.5 614.7V621.3M901.5 620.2V624.5M902.5 621.6V624.3M903.5 625.2V627.7M904.5 624.7V629.2M905.5 616.3V626.6M906.5 613.2V616.3M908.5 614.3V616.8M909.5 613.3V616.4M910.5 615.3V615.9M911.5 615.0V617.8M912.5 615.2V617.2M913.5 616.0V617.7M914.5 616.7V618.4M915.5 614.6V617.2M916.5 608.6V613.7M917.5 607.2V608.2M918.5 602.5V609.5M919.5 602.8V605.6M920.5 602.8V605.0M921.5 600.3V608.9M923.5 605.1V608.7M924.5 606.1V613.1M925.5 609.9V616.4M926.5 610.9V617.2M927.5 601.8V613.2M928.5 595.5V604.3M929.5 590.0V596.2M930.5 581.5V590.9M931.5 581.1V584.2M932.5 579.3V582.7M933.5 576.6V579.8M934.5 571.8V579.4M935.5 565.1V570.7M936.5 564.8V571.7M937.5 570.2V575.0M938.5 576.3V578.9M939.5 577.5V578.7M940.5 578.7V583.2M941.5 573.8V580.2M942.5 571.6V577.0M943.5 568.2V572.8M944.5 562.8V568.7M945.5 564.6V572.0M946.5 569.5V573.1M947.5 573.8V577.2M948.5 576.8V577.5M949.5 573.9V578.6M950.5 574.8V577.5M951.5 575.8V576.2M952.5 573.8V575.8M953.5 571.2V576.2M954.5 576.2V578.0M955.5 578.7V579.5M956.5 578.3V580.8M957.5 579.0V580.3M958.5 579.2V581.6M959.5 578.5V584.1M960.5 580.7V585.4M961.5 584.4V588.1M963.5 583.7V589.3M964.5 585.6V588.6M965.5 578.2V584.4M966.5 581.4V585.8M967.5 586.2V593.5M968.5 592.9V593.8M969.5 591.8V594.9M970.5 589.0V591.5M971.5 588.6V592.6M972.5 592.9V595.9M973.5 596.5V603.5M974.5 600.1V608.6M975.5 608.9V616.9M976.5 607.2V614.8M977.5 599.4V611.8M978.5 596.1V603.8M979.5 594.8V604.6M980.5 603.4V611.5M981.5 605.9V609.6M982.5 597.5V608.7M983.5 593.3V602.6M984.5 591.1V598.7M985.5 588.9V591.7M986.5 585.1V589.1M987.5 587.0V588.3M988.5 587.8V589.8M989.5 589.6V593.5M990.5 591.7V593.1M991.5 592.3V595.9M993.5 594.0V597.5M994.5 592.8V597.8M995.5 598.0V604.5M996.5 599.6V605.7M997.5 596.4V602.1M998.5 590.5V597.0M999.5 590.2V594.8M1000.5 592.4V593.3M1001.5 592.2V593.7M1002.5 592.5V597.8M1003.5 597.6V598.2M1004.5 599.4V602.7M1005.5 601.7V610.5M1006.5 607.8V609.7M1007.5 608.0V609.6M1009.5 606.7V611.7M1010.5 609.5V611.3M1011.5 608.0V612.4M1012.5 608.6V613.4M1013.5 609.5V612.5M1014.5 609.6V615.1M1015.5 614.9V620.7M1016.5 619.3V624.6M1017.5 623.2V628.7M1018.5 622.8V629.4M1019.5 622.6V627.5M1020.5 622.5V625.8M1021.5 620.0V622.7M1022.5 617.0V619.8M1023.5 616.9V619.3M1024.5 616.3V618.4M1025.5 611.9V615.8M1026.5 604.7V614.9M1027.5 592.8V605.2M1028.5 589.2V595.0M1029.5 583.7V590.0M1030.5 583.4V584.9M1031.5 581.9V588.4M1032.5 588.7V590.3M1033.5 585.6V588.6M1034.5 582.1V588.6M1035.5 582.0V585.2M1036.5 582.9V586.1M1037.5 584.0V590.2M1038.5 584.8V591.9M1039.5 588.3V593.7M1040.5 592.4V595.3M1041.5 592.1V599.6M1042.5 597.1V599.7M1043.5 595.4V600.8M1044.5 594.0V597.3M1045.5 589.6V593.5M1047.5 589.7V594.0M1048.5 593.8V594.8M1049.5 595.6V600.0M1050.5 597.8V601.1M1051.5 595.3V602.8M1052.5 593.9V599.0M1053.5 591.3V595.1M1054.5 590.2V591.5M1055.5 587.6V592.7M1056.5 587.4V589.8M1057.5 588.1V590.9M1058.5 586.2V589.2M1059.5 585.3V590.4M1060.5 578.5V584.3M1061.5 577.0V583.9M1062.5 573.4V577.1M1063.5 568.8V573.3M1064.5 567.5V570.6M1065.5 571.3V571.5M1066.5 570.6V571.2M1067.5 569.1V570.5M1068.5 564.1V568.4M1069.5 564.2V567.7M1070.5 562.1V567.0M1071.5 562.7V569.1M1072.5 567.6V570.8M1074.5 566.5V571.1M1075.5 567.5V570.7M1076.5 568.8V571.5M1077.5 568.6V570.7M1078.5 567.4V571.9M1079.5 561.9V570.2M1080.5 560.0V563.4M1081.5 555.4V559.4M1082.5 555.7V558.5M1083.5 554.1V557.6M1084.5 555.2V562.1M1085.5 560.5V568.3M1086.5 566.2V569.8M1087.5 568.8V574.1M1088.5 573.4V574.3M1089.5 573.4V576.0M1091.5 576.4V579.9M1092.5 573.4V576.1M1093.5 573.3V578.8M1094.5 577.5V584.4M1095.5 582.7V584.0M1096.5 584.6V589.0M1097.5 586.7V589.6M1098.5 589.8V593.0M1099.5 591.6V595.2M1100.5 594.5V596.7M1101.5 595.2V599.3M1102.5 598.6V602.4M1103.5 602.8V606.6M1104.5 607.8V610.9M1105.5 611.3V616.4M1106.5 616.4V622.2M1107.5 619.3V622.4M1108.5 617.9V621.2M1109.5 613.9V619.0M1110.5 610.6V613.1M1111.5 609.8V614.1M1112.5 611.2V611.9M1113.5 607.4V611.0M1114.5 607.3V612.2M1115.5 605.1V609.1M1116.5 605.1V607.6M1117.5 608.0V610.9M1118.5 608.2V615.5M1119.5 611.5V619.2M1120.5 619.3V630.9M1121.5 628.3V661.8M1122.5 656.8V660.4M1123.5 657.5V658.7M1124.5 658.1V658.4M1125.5 657.9V659.7M1126.5 656.4V657.4M1127.5 652.5V656.4M1128.5 651.7V652.3M1129.5 652.0V653.0M1130.5 653.2V655.8M1131.5 656.2V659.2M1133.5 659.1V661.6M1134.5 656.9V662.1M1135.5 654.4V660.1M1136.5 652.6V657.5M1137.5 651.5V656.0M1138.5 648.1V651.5M1139.5 648.8V653.5M1140.5 648.0V650.0M1141.5 646.3V648.1M1142.5 646.4V648.1M1143.5 643.7V649.2M1144.5 643.0V643.4M1145.5 638.5V642.2M1146.5 637.9V641.8M1147.5 632.5V637.9M1148.5 632.1V635.7M1149.5 624.9V634.1M1150.5 623.9V627.9M1151.5 618.8V623.5M1152.5 616.3V618.7M1153.5 613.6V619.2M1154.5 613.6V620.6M1155.5 617.9V620.6M1156.5 618.7V621.8M1157.5 622.5V623.6M1158.5 624.5V627.2M1159.5 625.9V627.3M1160.5 625.6V632.8M1161.5 627.4V635.8M1162.5 631.6V634.8M1163.5 631.8V634.3M1164.5 628.3V633.4M1165.5 627.5V631.6M1166.5 625.7V626.8M1167.5 619.6V627.8M1168.5 616.4V624.5M1169.5 617.3V624.6M1170.5 619.9V625.5M1171.5 625.6V629.0M1172.5 620.2V626.6M1173.5 617.3V623.0M1174.5 613.2V618.0M1175.5 611.0V614.6M1176.5 609.7V613.4M1177.5 607.0V608.7M1178.5 602.0V606.3M1179.5 594.7V603.5M1180.5 585.1V596.1M1181.5 579.4V589.3M1182.5 570.0V580.4M1183.5 562.5V570.3M1184.5 562.4V569.4M1185.5 564.6V571.7M1186.5 552.4V571.7M1187.5 549.1V555.6M1188.5 547.4V562.2M1189.5 559.0V573.2M1190.5 569.6V578.6M1191.5 568.5V578.2M1192.5 559.5V571.4M1193.5 554.1V564.9M1194.5 541.0V554.0M1195.5 528.0V541.3M1196.5 521.5V528.8M1197.5 514.9V523.8M1198.5 515.3V525.5M1199.5 525.0V539.6M1200.5 537.0V544.1M1201.5 536.4V543.1M1202.5 531.2V536.9M1203.5 529.9V537.2M1204.5 533.6V543.4M1205.5 540.2V547.1M1206.5 532.2V546.5M1207.5 524.5V535.8M1208.5 526.0V535.0M1209.5 529.6V541.5M1210.5 542.0V552.9M1211.5 548.1V552.6M1212.5 543.4V549.2M1213.5 536.4V546.1M1214.5 532.7V541.4M1216.5 526.9V531.0M1217.5 527.6V531.6M1218.5 523.3V529.6M1219.5 518.5V522.0M1220.5 511.9V518.2M1221.5 506.7V512.8M1222.5 501.0V509.3M1223.5 495.8V502.7M1224.5 492.0V496.5M1225.5 486.0V494.4M1226.5 486.0V493.9M1227.5 492.6V504.9M1228.5 501.4V510.7M1229.5 510.4V522.6M1230.5 519.0V532.3M1231.5 528.3V531.8M1232.5 521.7V528.1M1233.5 514.5V524.5M1234.5 513.9V514.4M1235.5 511.2V514.3M1236.5 510.6V513.7M1237.5 506.2V511.7M1238.5 502.8V510.4M1239.5 500.2V501.8M1240.5 498.5V503.5M1241.5 499.2V504.3M1242.5 501.5V503.3M1243.5 503.5V506.3M1244.5 504.3V509.2M1245.5 509.5V515.3M1246.5 513.4V519.3M1247.5 515.1V521.2M1248.5 521.2V528.3M1249.5 526.4V531.3M1250.5 531.9V534.5M1251.5 534.6V539.7M1252.5 532.5V537.7M1253.5 521.4V535.5M1254.5 516.2V526.6M1255.5 511.6V516.0M1256.5 513.0V513.8M1257.5 509.4V512.7M1258.5 506.7V511.3M1259.5 499.6V507.3M1260.5 493.5V502.7M1261.5 496.0V499.5M1262.5 499.7V505.3M1263.5 502.1V509.2M1264.5 504.1V513.6M1265.5 511.3V517.6M1266.5 516.5V524.4M1267.5 520.1V526.7M1268.5 511.6V522.1M1269.5 509.8V515.2M1270.5 503.3V510.9M1271.5 503.1V506.6M1272.5 506.5V507.7M1273.5 505.1V511.6M1274.5 507.5V511.9M1275.5 509.6V512.3M1276.5 511.4V511.8M1278.5 512.3V514.7M1279.5 512.5V519.7M1280.5 519.4V520.9M1281.5 520.0V526.3M1282.5 523.3V525.0M1283.5 517.2V523.6M1285.5 515.3V519.3"/>
<g stroke="#ffffff" stroke-width="1" shape-rendering="crispEdges">
<line x1="1309.5" y1="0" x2="1309.5" y2="724"/>
<line x1="0" y1="723.5" x2="1310" y2="723.5"/>
<line x1="1310" y1="88.5" x2="1314" y2="88.5"/>
<line x1="1310" y1="167.5" x2="1314" y2="167.5"/>
<line x1="1310" y1="247.5" x2="1314" y2="247.5"/>
<line x1="1310" y1="326.5" x2="1314" y2="326.5"/>
<line x1="1310" y1="405.5" x2="1314" y2="405.5"/>
<line x1="1310" y1="485.5" x2="1314" y2="485.5"/>
<line x1="1310" y1="564.5" x2="1314" y2="564.5"/>
<line x1="1310" y1="643.5" x2="1314" y2="643.5"/>
<line x1="1310" y1="9.5" x2="1314" y2="9.5"/>
<line x1="143.5" y1="724" x2="143.5" y2="727"/>
<line x1="171.5" y1="724" x2="171.5" y2="727"/>
<line x1="200.5" y1="724" x2="200.5" y2="727"/>
<line x1="228.5" y1="724" x2="228.5" y2="727"/>
<line x1="285.5" y1="724" x2="285.5" y2="727"/>
<line x1="313.5" y1="724" x2="313.5" y2="727"/>
<line x1="342.5" y1="724" x2="342.5" y2="727"/>
<line x1="370.5" y1="724" x2="370.5" y2="727"/>
<line x1="428.5" y1="724" x2="428.5" y2="727"/>
<line x1="456.5" y1="724" x2="456.5" y2="727"/>
<line x1="485.5" y1="724" x2="485.5" y2="727"/>
<line x1="513.5" y1="724" x2="513.5" y2="727"/>
<line x1="571.5" y1="724" x2="571.5" y2="727"/>
<line x1="599.5" y1="724" x2="599.5" y2="727"/>
<line x1="628.5" y1="724" x2="628.5" y2="727"/>
<line x1="656.5" y1="724" x2="656.5" y2="727"/>
<line x1="714.5" y1="724" x2="714.5" y2="727"/>
<line x1="742.5" y1="724" x2="742.5" y2="727"/>
<line x1="771.5" y1="724" x2="771.5" y2="727"/>
<line x1="799.5" y1="724" x2="799.5" y2="727"/>
<line x1="857.5" y1="724" x2="857.5" y2="727"/>
<line x1="885.5" y1="724" x2="885.5" y2="727"/>
<line x1="914.5" y1="724" x2="914.5" y2="727"/>
<line x1="942.5" y1="724" x2="942.5" y2="727"/>
<line x1="1000.5" y1="724" x2="1000.5" y2="727"/>
<line x1="1028.5" y1="724" x2="1028.5" y2="727"/>
<line x1="1057.5" y1="724" x2="1057.5" y2="727"/>
<line x1="1085.5" y1="724" x2="1085.5" y2="727"/>
<line x1="1143.5" y1="724" x2="1143.5" y2="727"/>
<line x1="1171.5" y1="724" x2="1171.5" y2="727"/>
<line x1="1200.5" y1="724" x2="1200.5" y2="727"/>
<line x1="1228.5" y1="724" x2="1228.5" y2="727"/>
<line x1="1286.5" y1="724" x2="1286.5" y2="727"/>
<line x1="87.5" y1="724" x2="87.5" y2="727"/>
<line x1="58.5" y1="724" x2="58.5" y2="727"/>
<line x1="30.5" y1="724" x2="30.5" y2="727"/>
<line x1="2.5" y1="724" x2="2.5" y2="727"/>
</g>
<g stroke="#9a9a9a" stroke-width="1" shape-rendering="crispEdges">
<line x1="115.5" y1="724" x2="115.5" y2="757"/>
<line x1="257.5" y1="724" x2="257.5" y2="757"/>
<line x1="400.5" y1="724" x2="400.5" y2="757"/>
<line x1="543.5" y1="724" x2="543.5" y2="757"/>
<line x1="686.5" y1="724" x2="686.5" y2="757"/>
<line x1="829.5" y1="724" x2="829.5" y2="757"/>
<line x1="972.5" y1="724" x2="972.5" y2="757"/>
<line x1="1115.5" y1="724" x2="1115.5" y2="757"/>
<line x1="1258.5" y1="724" x2="1258.5" y2="757"/>
</g>
<g stroke="#ffffff" stroke-width="1" shape-rendering="crispEdges">
<line x1="115.5" y1="724" x2="115.5" y2="727"/>
<line x1="257.5" y1="724" x2="257.5" y2="727"/>
<line x1="400.5" y1="724" x2="400.5" y2="727"/>
<line x1="543.5" y1="724" x2="543.5" y2="727"/>
<line x1="686.5" y1="724" x2="686.5" y2="727"/>
<line x1="829.5" y1="724" x2="829.5" y2="727"/>
<line x1="972.5" y1="724" x2="972.5" y2="727"/>
<line x1="1115.5" y1="724" x2="1115.5" y2="727"/>
<line x1="1258.5" y1="724" x2="1258.5" y2="727"/>
</g>
<polygon fill="#ffffff" points="1310,46.5 1318,49.5 1310,52.5"/>
<polygon fill="#ffffff" points="1310,125.5 1318,128.5 1310,131.5"/>
<polygon fill="#ffffff" points="1310,204.5 1318,207.5 1310,210.5"/>
<polygon fill="#ffffff" points="1310,284.5 1318,287.5 1310,290.5"/>
<polygon fill="#ffffff" points="1310,363.5 1318,366.5 1310,369.5"/>
<polygon fill="#ffffff" points="1310,442.5 1318,445.5 1310,448.5"/>
<polygon fill="#ffffff" points="1310,522.5 1318,525.5 1310,528.5"/>
<polygon fill="#ffffff" points="1310,601.5 1318,604.5 1310,607.5"/>
<polygon fill="#ffffff" points="1310,680.5 1318,683.5 1310,686.5"/>
<polygon fill="#ffffff" points="1311,517.5 1317,509 1368,509 1368,526 1317,526"/>
</svg>
<div class="yl" style="top:42px">16.0000</div>
<div class="yl" style="top:121px">14.0000</div>
<div class="yl" style="top:200px">12.0000</div>
<div class="yl" style="top:280px">10.0000</div>
<div class="yl" style="top:359px">8.0000</div>
<div class="yl" style="top:438px">6.0000</div>
<div class="yl" style="top:518px;clip-path:inset(8px 0 0 0)">4.0000</div>
<div class="yl" style="top:597px">2.0000</div>
<div class="yl" style="top:676px">0.0000</div>
<div class="yl tag" style="top:510px">4.1996</div>
<div class="xl" style="left:7.5px">1980-1984</div>
<div class="xl" style="left:136.0px">1985-1989</div>
<div class="xl" style="left:278.5px">1990-1994</div>
<div class="xl" style="left:421.5px">1995-1999</div>
<div class="xl" style="left:564.5px">2000-2004</div>
<div class="xl" style="left:707.5px">2005-2009</div>
<div class="xl" style="left:850.5px">2010-2014</div>
<div class="xl" style="left:993.5px">2015-2019</div>
<div class="xl" style="left:1136.5px">2020-2024</div>
<svg width="1368" height="763" viewBox="0 0 1368 763" style="position:absolute;left:0;top:0">
<g fill="none" stroke="#8a8a8a" stroke-width="1" shape-rendering="crispEdges">
<rect x="1114.5" y="11.5" width="6" height="6"/>
<line x1="1116" y1="14.5" x2="1120" y2="14.5"/>
<line x1="1117.5" y1="18" x2="1117.5" y2="63.5"/>
<line x1="1117" y1="31.5" x2="1121" y2="31.5"/>
<line x1="1117" y1="47.5" x2="1121" y2="47.5"/>
<line x1="1117" y1="63.5" x2="1121" y2="63.5"/>
<line x1="1130.5" y1="25" x2="1130.5" y2="37"/>
<line x1="1124" y1="47.5" x2="1136" y2="47.5"/>
<line x1="1130.5" y1="57" x2="1130.5" y2="68"/>
</g>
<rect x="1124" y="9" width="12" height="12" fill="#ffffff"/>
<g fill="#8a8a8a">
<path d="M1127 25h7l-2.5 2h-2z"/>
<path d="M1127 69h7l-2.5 -2h-2z"/>
</g>
<circle cx="1129.8" cy="47.5" r="2" fill="none" stroke="#8a8a8a" stroke-width="1"/>
<g fill="none" stroke="#858585" stroke-width="1">
<circle cx="555.5" cy="6.5" r="3.5"/>
<line x1="549.5" y1="6.5" x2="561.5" y2="6.5"/>
<line x1="555.5" y1="0.5" x2="555.5" y2="12.5"/>
<circle cx="762.8" cy="5.5" r="3.6"/>
</g>
<g stroke="#858585" fill="none">
<line x1="617" y1="10.5" x2="623.5" y2="4" stroke-width="2" stroke-linecap="round"/>
<line x1="620" y1="11" x2="626" y2="11" stroke-width="1"/>
<line x1="765.5" y1="8.3" x2="769" y2="11.8" stroke-width="2" stroke-linecap="round"/>
</g>
<g fill="#858585" shape-rendering="crispEdges">
<rect x="698" y="2" width="4" height="3"/>
<rect x="703" y="2" width="4" height="1"/>
<rect x="703" y="4" width="4" height="1"/>
<rect x="698" y="6" width="9" height="1"/>
<rect x="698" y="8" width="9" height="1"/>
<rect x="698" y="10" width="9" height="1"/>
</g>
</svg>
<div class="tb" style="left:570px">Track</div>
<div class="tb" style="left:635px">Annotate</div>
<div class="tb" style="left:716px">News</div>
<div class="tb" style="left:778px">Zoom</div>
<div class="lg" style="top:8px">Last Price</div>
<div class="lg" style="top:24px">High on 09/30/81</div>
<div class="lg" style="top:40px">Average</div>
<div class="lg" style="top:56px">Low on 08/04/20</div>
<div class="lv" style="top:8px">4.1996</div>
<div class="lv" style="top:24px">15.8420</div>
<div class="lv" style="top:40px">5.4900</div>
<div class="lv" style="top:56px">0.5069</div>

<svg width="1368" height="763" viewBox="0 0 1368 763" style="position:absolute;left:0;top:0"><g fill="none" stroke="#ffe400" stroke-linecap="round" stroke-linejoin="round"><path stroke-width="4.5" d="M93.7 53.0C92.1 54.0 88.0 57.5 83.9 59.0C79.8 60.5 73.4 60.9 69.2 61.9C65.0 62.9 60.5 64.0 58.5 65.0C56.5 66.0 56.9 66.8 57.5 68.0C58.1 69.2 58.8 70.4 62.0 72.2C65.2 74.0 72.3 76.9 76.5 78.7C80.7 80.5 85.2 82.2 87.0 82.9M76.8 66.6C82.8 67.6 102.2 70.8 113.1 72.9C124.0 75.1 132.6 77.0 142.3 79.5C152.1 82.0 161.8 85.2 171.6 88.2C181.3 91.2 193.6 95.2 200.8 97.7C208.0 100.2 212.4 102.0 214.7 102.9"/><path stroke-width="4.5" d="M176.6 126.3C176.4 128.5 175.0 136.0 175.7 139.5C176.3 143.0 178.5 146.0 180.5 147.4C182.5 148.8 185.0 148.4 187.5 147.8C190.0 147.2 193.5 146.0 195.4 143.9C197.3 141.8 198.4 139.0 198.9 135.1C199.4 131.2 198.6 123.0 198.5 120.6M204.6 143.0C204.8 139.6 203.1 123.5 206.0 122.8C208.9 122.1 219.1 140.3 222.2 138.6C225.3 136.8 224.0 116.7 224.4 112.3M234.3 121.5L232.9 141.3M265.2 125.4C263.7 124.6 259.0 121.1 256.0 120.6C253.0 120.1 249.2 120.9 247.2 122.4C245.1 123.9 244.1 127.0 243.7 129.8C243.3 132.7 243.4 137.3 244.6 139.5C245.8 141.7 246.7 142.4 250.7 143.0C254.7 143.6 265.7 143.0 268.7 143.0M277.0 134.7C277.4 133.4 277.6 128.8 279.6 126.8C281.7 124.8 286.2 123.3 289.3 122.9C292.4 122.5 296.3 123.2 298.1 124.6C299.9 126.0 300.5 128.8 300.3 131.2C300.1 133.5 299.3 137.2 297.2 138.7C295.1 140.2 290.1 140.2 287.5 140.0C284.9 139.8 282.6 138.9 281.4 137.4C280.2 135.9 280.6 132.2 280.5 131.2M306.0 135.6C306.4 132.3 307.5 120.2 308.3 116.0C309.1 111.8 309.7 111.0 311.0 110.5C312.3 110.0 315.0 111.3 316.3 112.8C317.6 114.3 318.9 117.5 319.0 119.5C319.1 121.5 318.2 123.5 317.0 124.8C315.8 126.1 311.8 125.8 311.8 127.2C311.8 128.7 314.5 131.3 317.0 133.5C319.5 135.7 323.2 138.6 327.0 140.5C330.8 142.4 337.5 144.2 339.6 145.0M332.7 139.1C332.6 136.3 329.4 122.2 331.8 122.5C334.2 122.8 344.3 145.0 347.2 140.9C350.1 136.8 348.7 105.1 349.0 97.9"/><path stroke-width="4.5" d="M382.6 106.7C383.0 108.7 383.3 115.1 384.9 118.4C386.5 121.7 390.8 125.2 392.0 126.6M405.4 109.0C403.2 111.9 393.9 119.8 392.0 126.6C390.1 133.4 393.4 146.1 393.7 150.0M414.2 131.3L414.2 157.0M424.1 134.8L441.7 132.4M423.0 138.3C423.6 139.3 425.6 141.2 426.5 144.1C427.4 147.0 425.3 154.4 428.2 155.8C431.1 157.2 441.4 152.9 444.0 152.3M428.8 146.5L439.3 145.9M455.1 128.3C455.0 131.1 454.2 142.1 454.5 145.3C454.8 148.5 452.4 146.2 456.9 147.6C461.4 149.0 477.3 152.5 481.4 153.5M482.0 126.0L487.3 146.5M482.0 126.0C483.7 126.5 489.4 126.7 492.0 128.9C494.6 131.1 496.6 136.8 497.8 139.4C499.0 142.0 500.8 143.4 499.0 144.7C497.2 146.0 489.2 146.6 487.3 147.0M517.1 127.7C516.0 127.3 512.9 125.0 510.7 125.4C508.5 125.8 504.7 128.3 503.7 130.1C502.7 131.8 502.1 134.3 504.8 135.9C507.5 137.5 516.7 137.6 520.0 139.4C523.3 141.2 524.9 144.2 524.7 146.5C524.5 148.8 521.4 152.5 518.9 153.5C516.4 154.5 511.3 153.1 509.5 152.3C507.7 151.5 508.5 149.4 508.3 148.8"/><path stroke-width="4.5" d="M564.6 123.0L567.2 151.9M600.5 118.6L576.8 121.8M579.5 122.0L582.1 136.1M582.1 136.1C583.9 135.5 588.2 132.9 592.6 132.6C597.0 132.3 605.0 132.9 608.4 134.4C611.8 135.9 613.1 139.2 612.8 141.4C612.5 143.6 610.1 146.2 606.7 147.5C603.3 148.8 596.3 149.4 592.6 149.3C588.9 149.2 586.0 147.1 584.7 146.7M619.0 142.6L621.2 141.8M639.0 113.0C638.1 112.7 635.2 110.7 633.5 111.0C631.8 111.3 629.3 113.3 628.8 115.0C628.3 116.7 629.0 119.0 630.5 121.0C632.0 123.0 635.9 124.8 637.5 127.0C639.1 129.2 639.8 131.7 640.0 134.0C640.2 136.3 639.6 138.8 638.5 141.0C637.4 143.2 635.0 146.2 633.5 147.0C632.0 147.8 629.9 146.8 629.5 145.5C629.1 144.2 629.9 141.2 631.0 139.0C632.1 136.8 634.4 135.0 636.0 132.5C637.6 130.0 639.9 126.2 640.5 124.0C641.1 121.8 640.8 120.4 639.5 119.0C638.2 117.6 634.1 116.1 633.0 115.5M672.0 110.5C670.9 113.9 667.2 125.3 665.5 131.0C663.8 136.7 662.3 141.8 662.0 144.5C661.7 147.2 662.9 147.1 663.5 147.5C664.1 147.9 665.2 146.9 665.5 146.8M743.5 91.4L728.6 135.3M722.5 151.9L722.6 152.0M766.3 94.0L752.3 137.0M745.3 151.0L743.5 154.6"/><path stroke-width="3.6" d="M649.2 120.2C649.3 121.2 649.0 124.9 649.8 126.2C650.6 127.5 652.5 128.3 653.8 128.0C655.1 127.7 657.1 125.8 657.6 124.6C658.1 123.4 657.4 121.2 656.8 121.0C656.2 120.8 654.5 122.8 654.0 123.2"/><path stroke-width="4.2" d="M523.4 38.3L516.8 64.6M552.8 48.4L561.1 47.5M569.9 39.6C570.8 41.4 573.2 48.1 575.2 50.2C577.2 52.3 581.0 52.0 582.2 52.4M583.5 35.7C583.3 38.5 582.6 47.1 582.2 52.4C581.8 57.7 581.4 65.2 581.3 67.7M591.4 47.5L591.0 64.2M592.7 46.7C593.7 46.4 597.4 44.6 598.9 44.9C600.4 45.2 601.6 46.8 601.5 48.4C601.4 50.0 599.5 53.3 598.0 54.6C596.5 55.9 592.7 55.7 592.7 56.3C592.7 56.9 594.6 56.6 598.0 58.1C601.4 59.6 610.4 63.9 612.9 65.1M624.2 41.8C625.9 43.2 632.0 48.0 634.4 50.5C636.8 53.0 637.8 55.6 638.5 56.6M652.4 36.7C651.6 38.5 649.4 43.9 647.8 47.4C646.2 50.9 644.1 56.1 642.6 57.6C641.1 59.1 639.2 56.8 638.5 56.6M638.5 56.6L638.5 71.5M656.0 50.5L656.0 62.8M675.9 44.8L668.2 47.9M662.1 51.5C662.2 53.7 660.9 62.4 662.6 64.8C664.3 67.2 670.7 65.6 672.3 65.8M663.1 56.6L669.0 56.8M681.5 50.5C681.5 52.4 679.5 59.5 681.5 61.7C683.5 63.9 691.8 63.4 693.8 63.8M700.0 47.4L700.0 67.9M702.0 46.4C703.5 46.9 708.9 47.3 711.2 49.4C713.5 51.5 715.6 56.0 715.8 58.7C716.0 61.4 714.3 64.3 712.2 65.8C710.1 67.3 704.5 67.6 703.0 67.9M737.3 51.5C736.5 50.6 735.0 47.1 732.7 46.4C730.4 45.7 725.4 46.2 723.5 47.4C721.6 48.6 720.7 52.0 721.4 53.5C722.1 55.0 725.0 55.6 727.6 56.6C730.2 57.6 735.4 58.3 736.8 59.7C738.2 61.1 737.5 63.9 735.8 64.8C734.1 65.7 728.1 65.2 726.6 65.3"/><path stroke-width="4.5" d="M451.2 282.0C452.2 283.1 454.5 286.2 457.5 288.5C460.5 290.8 464.1 293.2 469.0 295.8C473.9 298.4 474.5 298.6 486.8 303.9C499.1 309.1 526.5 320.1 542.9 327.3C559.3 334.5 569.0 340.6 585.0 347.2C601.0 353.8 621.6 360.7 638.8 367.1C656.0 373.5 669.5 379.0 688.0 385.8C706.5 392.6 729.2 401.0 750.0 408.1C770.8 415.2 795.0 422.4 812.7 428.6C830.4 434.8 844.1 440.9 856.2 445.5C868.3 450.1 874.7 452.9 885.1 456.3C895.5 459.7 907.6 463.4 918.9 466.0C930.2 468.6 940.6 469.6 952.7 472.0C964.8 474.4 980.8 478.3 991.3 480.5C1001.8 482.7 1005.8 484.1 1015.4 485.3C1025.0 486.5 1043.6 487.3 1049.2 487.7M1032.6 463.5C1033.2 464.4 1034.8 466.9 1036.5 469.0C1038.2 471.1 1040.3 473.9 1043.0 476.0C1045.7 478.1 1048.7 479.9 1052.6 481.8C1056.5 483.7 1064.2 486.5 1066.5 487.4M1066.5 487.4C1064.8 488.3 1059.5 491.1 1056.0 493.0C1052.5 494.9 1047.2 497.9 1045.4 498.9"/><path stroke-width="4.2" d="M751.8 647.1C753.1 651.9 756.6 666.5 759.7 676.0C762.8 685.5 768.5 699.6 770.3 704.3M782.8 656.3C784.0 657.8 788.4 663.3 790.0 665.5C791.6 667.7 792.2 668.8 792.6 669.5M794.6 643.2L793.3 677.4M802.5 659.6L801.8 674.1M818.9 653.7L809.7 656.3M808.4 659.0C808.5 661.1 807.1 669.2 809.1 671.4C811.1 673.6 818.4 672.0 820.3 672.1M809.1 665.5L816.0 664.5M830.8 655.0C830.8 658.1 829.7 670.2 830.8 673.4C831.9 676.6 836.3 674.0 837.4 674.1M843.9 659.6L843.9 678.7M841.3 657.6C843.5 657.2 850.9 654.5 854.5 655.0C858.1 655.5 861.5 658.3 863.0 660.3C864.5 662.3 864.5 664.8 863.7 666.8C862.9 668.8 862.4 670.8 858.4 672.1C854.4 673.4 843.1 674.3 840.0 674.7M909.5 657.6L912.1 677.4M908.2 656.3C910.4 656.0 917.6 654.1 921.3 654.3C925.0 654.5 928.5 655.7 930.5 657.6C932.5 659.5 933.6 663.1 933.2 665.5C932.8 667.9 931.0 670.6 927.9 672.1C924.8 673.6 919.2 674.0 914.7 674.7C910.2 675.4 903.2 675.9 900.9 676.1M939.7 657.6L955.5 655.0M939.7 657.6L937.1 672.1M943.7 664.2L952.9 663.6M939.7 674.7L958.8 674.7M980.5 653.0C978.5 653.1 971.0 652.7 968.7 653.7C966.4 654.7 966.3 656.9 966.7 658.9C967.1 660.9 968.1 664.4 971.3 665.5C974.5 666.6 983.2 664.8 985.8 665.5C988.4 666.2 988.2 668.4 987.1 669.5C986.0 670.6 982.1 671.9 979.2 672.1C976.4 672.3 971.5 671.0 970.0 670.8M993.7 655.3L1010.1 653.0M995.0 656.0L996.3 676.1M1000.3 665.5L1005.5 662.2M997.6 676.7L1012.1 674.1M1021.3 653.7L1022.0 677.4M1022.6 651.1C1024.4 651.3 1031.2 650.9 1033.2 652.4C1035.2 653.9 1035.6 658.1 1034.5 660.3C1033.4 662.5 1029.2 664.6 1026.6 665.5C1024.0 666.4 1020.0 665.5 1018.7 665.5M1025.3 668.2L1052.9 687.9M1046.3 647.8L1064.7 647.8M1058.8 649.7L1058.2 673.4M1094.1 646.4C1093.9 652.4 1092.9 673.0 1092.8 682.5C1092.7 692.0 1092.3 697.6 1093.4 703.4C1094.5 709.2 1098.3 714.9 1099.3 717.2"/><path stroke-width="4.2" d="M534.8 44.1C535.6 43.4 537.4 42.0 539.2 42.1C541.0 42.2 544.0 43.6 545.5 44.8C547.0 46.0 548.3 47.6 548.2 49.2C548.1 50.9 546.3 53.2 544.7 54.7C543.1 56.2 540.5 57.9 538.8 58.2C537.1 58.5 535.2 57.5 534.4 56.3C533.6 55.0 534.1 52.4 534.1 50.7C534.1 49.1 534.5 47.5 534.6 46.4C534.7 45.3 534.0 44.8 534.8 44.1Z"/><ellipse cx="674.4" cy="141.3" rx="2.6" ry="4.6" stroke-width="3.6"/></g></svg>
</body></html>
